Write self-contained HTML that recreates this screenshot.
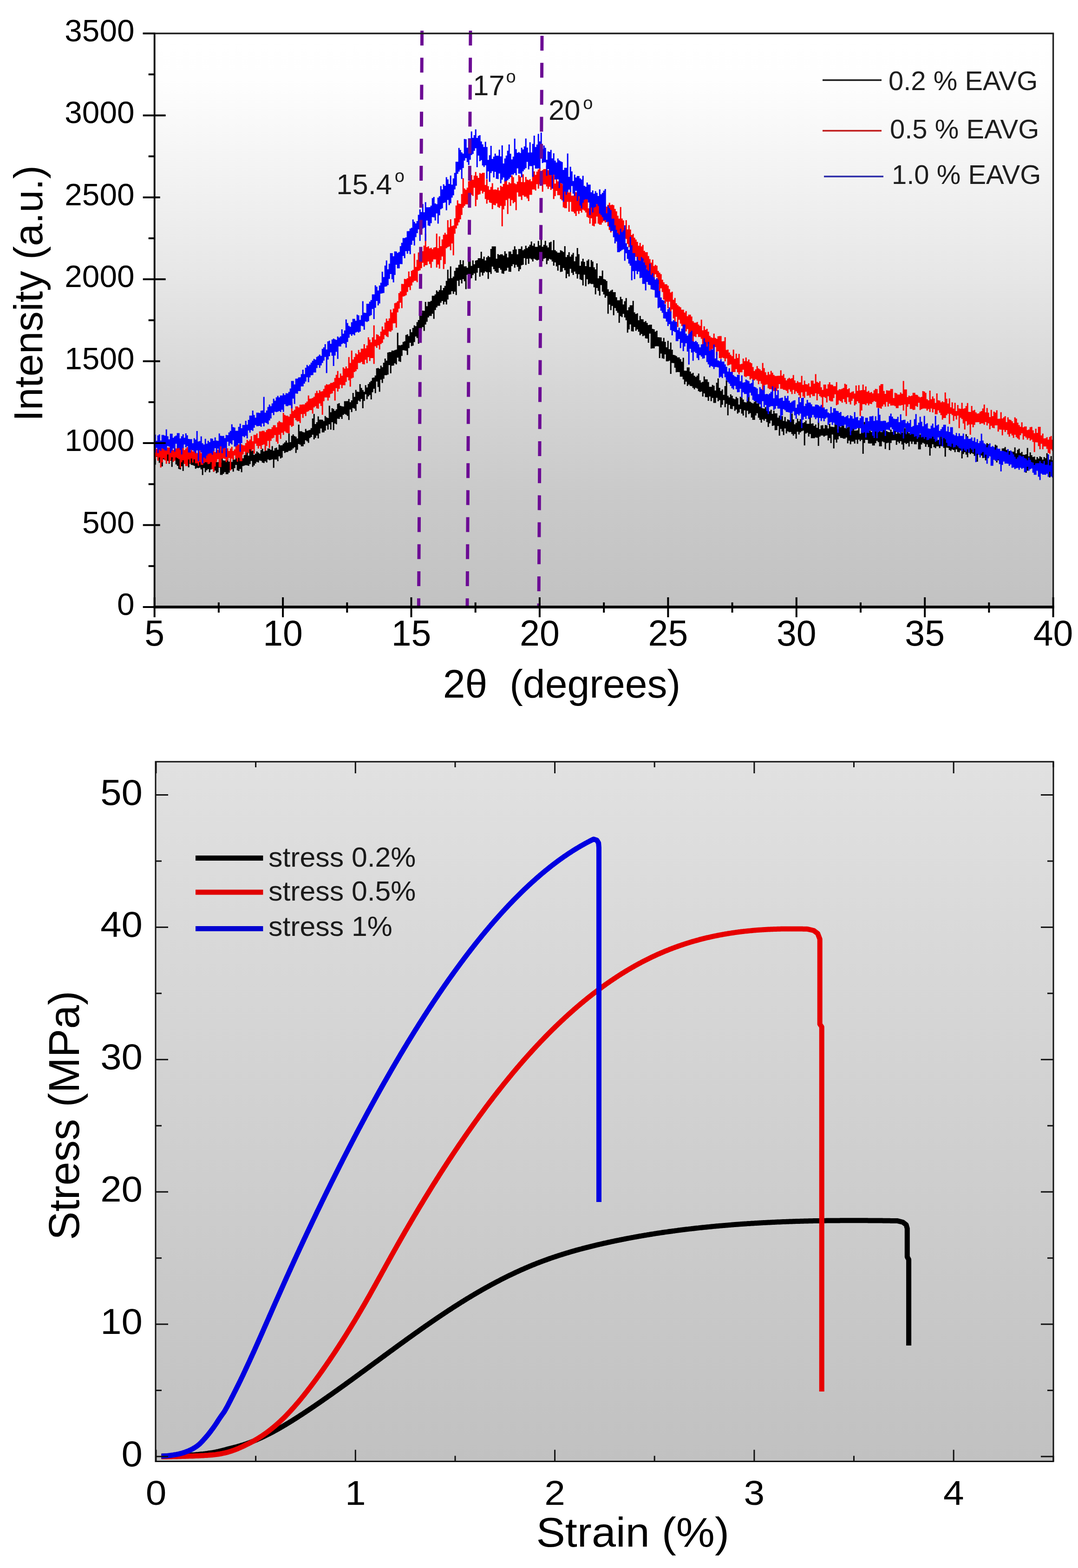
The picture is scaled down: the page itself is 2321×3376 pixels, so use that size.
<!DOCTYPE html>
<html><head><meta charset="utf-8"><title>XRD and stress-strain</title>
<style>html,body{margin:0;padding:0;background:#fff;}svg{display:block;}text{font-family:"Liberation Sans", Arial, sans-serif;}</style>
</head><body>
<svg width="2321" height="3376" viewBox="0 0 2321 3376">
<defs>
<linearGradient id="gt" x1="0" y1="0" x2="0" y2="1"><stop offset="0" stop-color="#ffffff"/><stop offset="0.08" stop-color="#fefefe"/><stop offset="0.42" stop-color="#e7e7e7"/><stop offset="0.62" stop-color="#d6d6d6"/><stop offset="0.8" stop-color="#cacaca"/><stop offset="1" stop-color="#c2c2c2"/></linearGradient>
<linearGradient id="gb" x1="0" y1="0" x2="0" y2="1"><stop offset="0" stop-color="#e1e1e1"/><stop offset="1" stop-color="#c1c1c1"/></linearGradient>
</defs>
<rect x="0" y="0" width="2321" height="3376" fill="#fff"/>
<rect x="332.7" y="72" width="1934.9" height="1235" fill="url(#gt)"/>
<path d="M332.7 964.2H335.7V969.8H338.7V956.5H341.7V950.9H344.7V965.8H347.7V970.3H350.7V967.9H353.7V969.7H356.7V968.8H359.7V964.9H362.7V971.1H365.7V975.2H368.7V964.7H371.7V975.6H374.7V975.6H377.7V969.1H380.7V980.5H383.7V973.5H386.7V975.2H389.7V966.9H392.7V978.4H395.7V979.6H398.7V979.6H401.7V979.1H404.7V970.7H407.7V978.1H410.7V973.6H413.7V973.6H416.7V973.3H419.7V987.2H422.7V988.3H425.7V982.3H428.7V985.9H431.7V979.2H434.7V984.6H437.7V989.4H440.7V985.8H443.7V988.4H446.7V992.2H449.7V987.9H452.7V983H455.7V991.2H458.7V995.5H461.7V992.1H464.7V994.9H467.7V994.9H470.7V989.9H473.7V996.2H476.7V983.6H479.7V991.2H482.7V991.8H485.7V989.8H488.7V986.8H491.7V993.9H494.7V989.4H497.7V994.5H500.7V985.5H503.7V989.4H506.7V974.7H509.7V984.8H512.7V984.5H515.7V987.6H518.7V979.3H521.7V986.8H524.7V980.1H527.7V975.1H530.7V974.3H533.7V981.1H536.7V960.9H539.7V961.5H542.7V970.3H545.7V979.3H548.7V976.7H551.7V972H554.7V974.6H557.7V976.7H560.7V968.9H563.7V965.9H566.7V972.1H569.7V960.8H572.7V970.2H575.7V965.6H578.7V965.9H581.7V968.4H584.7V960.6H587.7V970.2H590.7V965.1H593.7V963.8H596.7V968.3H599.7V957.3H602.7V958.9H605.7V958.6H608.7V955.2H611.7V952.4H614.7V948.5H617.7V952.9H620.7V933.2H623.7V951.9H626.7V938.2H629.7V935.2H632.7V938.7H635.7V940.2H638.7V943.9H641.7V914.2H644.7V928.5H647.7V928.5H650.7V930.3H653.7V930.9H656.7V923.4H659.7V927.6H662.7V926.5H665.7V925.5H668.7V921.8H671.7V901.1H674.7V891.3H677.7V912.9H680.7V909.1H683.7V896.6H686.7V903.5H689.7V903.5H692.7V903.7H695.7V906.5H698.7V895.7H701.7V898.6H704.7V900.1H707.7V873.5H710.7V887.5H713.7V878.9H716.7V880.4H719.7V884.6H722.7V881.3H725.7V869.6H728.7V868.1H731.7V873.8H734.7V874.7H737.7V875.3H740.7V863.8H743.7V863.8H746.7V863.5H749.7V858.9H752.7V866.1H755.7V861.9H758.7V845.9H761.7V854.5H764.7V839.5H767.7V843.3H770.7V843.7H773.7V827.1H776.7V835.3H779.7V839.7H782.7V843.4H785.7V829.3H788.7V834.3H791.7V826.8H794.7V822.7H797.7V820H800.7V813.4H803.7V812.7H806.7V808.4H809.7V793.1H812.7V792.3H815.7V794.1H818.7V787.2H821.7V790.5H824.7V781H827.7V772.1H830.7V776.6H833.7V759.1H836.7V757.9H839.7V757.9H842.7V754.8H845.7V755H848.7V753.7H851.7V752.7H854.7V716.4H857.7V743.2H860.7V743.5H863.7V742.2H866.7V736.3H869.7V734.7H872.7V721.2H875.7V719.8H878.7V723.6H881.7V709H884.7V715.2H887.7V706.1H890.7V700.5H893.7V702.2H896.7V693.5H899.7V689.1H902.7V668.9H905.7V674.6H908.7V668.8H911.7V669.3H914.7V650H917.7V659.3H920.7V649.8H923.7V649.8H926.7V647.7H929.7V636.7H932.7V636.7H935.7V633.7H938.7V625.3H941.7V628H944.7V624.4H947.7V614.5H950.7V624.9H953.7V620.1H956.7V615.4H959.7V604.7H962.7V580.7H965.7V599.6H968.7V573.6H971.7V598.7H974.7V595.5H977.7V583.2H980.7V576.6H983.7V576.6H986.7V570.2H989.7V559.9H992.7V568.9H995.7V560.4H998.7V573.6H1001.7V573.2H1004.7V576.4H1007.7V551.7H1010.7V556.6H1013.7V572.4H1016.7V560.4H1019.7V568.9H1022.7V560.9H1025.7V560H1028.7V555.9H1031.7V555.9H1034.7V542H1037.7V557.5H1040.7V552.5H1043.7V560.8H1046.7V554H1049.7V550.9H1052.7V553.4H1055.7V535.9H1058.7V530.6H1061.7V530.6H1064.7V530.6H1067.7V557H1070.7V547H1073.7V548.9H1076.7V547.6H1079.7V547.6H1082.7V550.3H1085.7V540.9H1088.7V546.3H1091.7V554.3H1094.7V541.5H1097.7V541.5H1100.7V547.1H1103.7V537.8H1106.7V530.3H1109.7V536.7H1112.7V547.6H1115.7V535.9H1118.7V535.9H1121.7V530.4H1124.7V538.7H1127.7V536.6H1130.7V529H1133.7V534.3H1136.7V530.9H1139.7V526.9H1142.7V520H1145.7V529H1148.7V524.3H1151.7V531.4H1154.7V531.5H1157.7V518.8H1160.7V528.2H1163.7V514.9H1166.7V531.3H1169.7V527.3H1172.7V518.5H1175.7V528.8H1178.7V532.7H1181.7V521.9H1184.7V520.4H1187.7V538.8H1190.7V516.9H1193.7V538.6H1196.7V541.3H1199.7V544H1202.7V544H1205.7V538.7H1208.7V540.2H1211.7V542.4H1214.7V529.9H1217.7V553.4H1220.7V548.9H1223.7V543.1H1226.7V552.6H1229.7V548.2H1232.7V544.6H1235.7V562.5H1238.7V552.6H1241.7V534H1244.7V547.3H1247.7V572.2H1250.7V562.8H1253.7V557.1H1256.7V563.8H1259.7V572.9H1262.7V561.3H1265.7V558.6H1268.7V574.8H1271.7V560H1274.7V563.3H1277.7V575.6H1280.7V580H1283.7V567H1286.7V599.3H1289.7V593.9H1292.7V594.5H1295.7V582.6H1298.7V600.7H1301.7V602.1H1304.7V604.9H1307.7V622.7H1310.7V627.9H1313.7V625.5H1316.7V623.7H1319.7V629.1H1322.7V629.1H1325.7V640.1H1328.7V646.6H1331.7V646.6H1334.7V638.9H1337.7V644.1H1340.7V655.5H1343.7V648.6H1346.7V641.7H1349.7V668H1352.7V661.4H1355.7V657.2H1358.7V657.2H1361.7V647.7H1364.7V672.5H1367.7V676.1H1370.7V674.4H1373.7V689.6H1376.7V680.2H1379.7V687.3H1382.7V687.6H1385.7V693.2H1388.7V691.3H1391.7V695.2H1394.7V700.1H1397.7V699H1400.7V699H1403.7V708.1H1406.7V708.9H1409.7V713.9H1412.7V712.1H1415.7V726H1418.7V726.2H1421.7V726.6H1424.7V734.8H1427.7V727.4H1430.7V735.9H1433.7V747.8H1436.7V733.7H1439.7V751.7H1442.7V737.4H1445.7V753H1448.7V764.1H1451.7V764.8H1454.7V766.6H1457.7V769.6H1460.7V769.6H1463.7V773.3H1466.7V778.8H1469.7V770.3H1472.7V798H1475.7V798.2H1478.7V791.1H1481.7V791.1H1484.7V799.9H1487.7V804.4H1490.7V802.8H1493.7V809H1496.7V811.5H1499.7V808.7H1502.7V804.2H1505.7V818.8H1508.7V823.4H1511.7V822H1514.7V810.6H1517.7V816.8H1520.7V816.8H1523.7V822.6H1526.7V832.8H1529.7V832.8H1532.7V828.7H1535.7V830.4H1538.7V840.7H1541.7V823.9H1544.7V814.7H1547.7V835H1550.7V841.7H1553.7V838.6H1556.7V850.1H1559.7V831.2H1562.7V818.9H1565.7V852H1568.7V855.5H1571.7V849H1574.7V852H1577.7V857.9H1580.7V859.4H1583.7V854.4H1586.7V857.2H1589.7V871H1592.7V854.2H1595.7V856.2H1598.7V860.3H1601.7V865.7H1604.7V866.6H1607.7V860H1610.7V850.7H1613.7V864.7H1616.7V867H1619.7V868.5H1622.7V865.5H1625.7V861.2H1628.7V868.6H1631.7V862.1H1634.7V875.4H1637.7V875.3H1640.7V879.1H1643.7V879.7H1646.7V876.6H1649.7V881.3H1652.7V883.5H1655.7V885.6H1658.7V882.3H1661.7V891.1H1664.7V884.3H1667.7V890.1H1670.7V890.1H1673.7V899.3H1676.7V894.8H1679.7V895.8H1682.7V895.8H1685.7V906.3H1688.7V897.7H1691.7V907.6H1694.7V902.9H1697.7V904.4H1700.7V905.6H1703.7V890.6H1706.7V903.1H1709.7V913.5H1712.7V910.3H1715.7V901.4H1718.7V906.9H1721.7V902.6H1724.7V909.8H1727.7V910.8H1730.7V908.9H1733.7V905.6H1736.7V912.5H1739.7V912.5H1742.7V893.3H1745.7V912.3H1748.7V911.6H1751.7V917.1H1754.7V913.9H1757.7V921.1H1760.7V908.5H1763.7V924H1766.7V915.9H1769.7V915.5H1772.7V922.5H1775.7V914.9H1778.7V915.7H1781.7V922.4H1784.7V912.2H1787.7V918.6H1790.7V919.1H1793.7V919.6H1796.7V909.2H1799.7V909.2H1802.7V924H1805.7V913.5H1808.7V919.8H1811.7V914.7H1814.7V908.4H1817.7V921.5H1820.7V922.2H1823.7V920H1826.7V913.2H1829.7V929.3H1832.7V911.8H1835.7V922.4H1838.7V927.1H1841.7V926.9H1844.7V926.5H1847.7V915.2H1850.7V933.8H1853.7V927.3H1856.7V929.7H1859.7V908.6H1862.7V932H1865.7V925.7H1868.7V921.3H1871.7V927.1H1874.7V930.3H1877.7V909.9H1880.7V917.8H1883.7V918.9H1886.7V921.8H1889.7V928.9H1892.7V925.7H1895.7V930.3H1898.7V919.7H1901.7V919.7H1904.7V928.7H1907.7V927.9H1910.7V930H1913.7V930.4H1916.7V924.9H1919.7V929.9H1922.7V927.9H1925.7V925.2H1928.7V933.7H1931.7V927.5H1934.7V932.8H1937.7V926.5H1940.7V931.3H1943.7V931.8H1946.7V921.7H1949.7V932.9H1952.7V925.1H1955.7V932.5H1958.7V930H1961.7V926.2H1964.7V929.2H1967.7V925.8H1970.7V931.1H1973.7V934.8H1976.7V932.5H1979.7V935.4H1982.7V923.4H1985.7V923.9H1988.7V938.8H1991.7V929H1994.7V923H1997.7V932.3H2000.7V938.2H2003.7V933.7H2006.7V939H2009.7V932.6H2012.7V939.7H2015.7V942.1H2018.7V947.3H2021.7V935.9H2024.7V937.5H2027.7V944.7H2030.7V930.8H2033.7V942.7H2036.7V934.6H2039.7V934.6H2042.7V937.3H2045.7V939.8H2048.7V950.7H2051.7V943.2H2054.7V948H2057.7V941.6H2060.7V946.1H2063.7V950.3H2066.7V957H2069.7V952.8H2072.7V953.1H2075.7V946.8H2078.7V934.8H2081.7V939.3H2084.7V956.9H2087.7V952.1H2090.7V956.3H2093.7V956.3H2096.7V944.3H2099.7V957H2102.7V963.6H2105.7V957.2H2108.7V959.2H2111.7V952.3H2114.7V952.3H2117.7V963.4H2120.7V959.8H2123.7V954.1H2126.7V956.3H2129.7V965.6H2132.7V965.8H2135.7V962.1H2138.7V963.5H2141.7V957.5H2144.7V959.6H2147.7V969.6H2150.7V972.6H2153.7V971.5H2156.7V965.6H2159.7V965.2H2162.7V962.4H2165.7V968.7H2168.7V969.4H2171.7V971H2174.7V971H2177.7V972.6H2180.7V972.6H2183.7V963.3H2186.7V976.1H2189.7V968.5H2192.7V965.9H2195.7V975.5H2198.7V973H2201.7V978.9H2204.7V979.3H2207.7V978.1H2210.7V964.4H2213.7V982.4H2216.7V974.1H2219.7V980.1H2222.7V984.1H2225.7V982.9H2228.7V989.4H2231.7V983.9H2234.7V987.3H2237.7V982.4H2240.7V984.3H2243.7V989.4H2246.7V983.9H2249.7V986.4H2252.7V975.8H2255.7V991.3H2258.7V989.6H2261.7V981.9H2264.7V991.1H2267.6V1019.7H2264.7V1010.3H2261.7V1028.1H2258.7V1015.5H2255.7V1013H2252.7V1007.3H2249.7V1007.9H2246.7V1002.1H2243.7V1002.1H2240.7V1004.9H2237.7V1015.9H2234.7V1009.7H2231.7V1004.2H2228.7V1004.7H2225.7V1004.2H2222.7V997.6H2219.7V993.8H2216.7V1007.7H2213.7V1013.4H2210.7V1017.7H2207.7V995.4H2204.7V998.7H2201.7V998.7H2198.7V1000.7H2195.7V1000.7H2192.7V993H2189.7V998.8H2186.7V1005H2183.7V992.6H2180.7V993.3H2177.7V999.3H2174.7V994.9H2171.7V993.7H2168.7V993.9H2165.7V992.9H2162.7V989.1H2159.7V988.2H2156.7V999H2153.7V993.2H2150.7V990.9H2147.7V995.8H2144.7V989.7H2141.7V989.8H2138.7V997.9H2135.7V983.7H2132.7V980.6H2129.7V975.8H2126.7V986.9H2123.7V991.2H2120.7V985.6H2117.7V986.3H2114.7V980.7H2111.7V980.4H2108.7V978.1H2105.7V994.1H2102.7V981.1H2099.7V981.6H2096.7V977.2H2093.7V975.6H2090.7V977.7H2087.7V974.7H2084.7V984.6H2081.7V978.7H2078.7V973.6H2075.7V977.6H2072.7V987.1H2069.7V970.1H2066.7V973.8H2063.7V972.9H2060.7V967.5H2057.7V973.6H2054.7V969H2051.7V967.7H2048.7V970.8H2045.7V969.1H2042.7V964.3H2039.7V963.7H2036.7V983.2H2033.7V964.4H2030.7V960.3H2027.7V960.6H2024.7V964.7H2021.7V960.9H2018.7V960.9H2015.7V965H2012.7V963.1H2009.7V956.6H2006.7V965.1H2003.7V980.9H2000.7V962.6H1997.7V956.8H1994.7V961.9H1991.7V955.4H1988.7V953.6H1985.7V956.9H1982.7V967.4H1979.7V967.4H1976.7V951.4H1973.7V956.6H1970.7V956.6H1967.7V950.8H1964.7V955.7H1961.7V950.6H1958.7V961.4H1955.7V954.1H1952.7V956H1949.7V953.4H1946.7V968.1H1943.7V957.1H1940.7V950H1937.7V954.3H1934.7V950.9H1931.7V957.8H1928.7V948.1H1925.7V948.1H1922.7V948.3H1919.7V953.8H1916.7V969H1913.7V953.2H1910.7V954.2H1907.7V966.7H1904.7V952.3H1901.7V950.6H1898.7V960.9H1895.7V960.9H1892.7V952.1H1889.7V949.3H1886.7V954.3H1883.7V959.2H1880.7V959.2H1877.7V954.7H1874.7V954.9H1871.7V954.8H1868.7V947.2H1865.7V947.1H1862.7V953.7H1859.7V977.1H1856.7V946.9H1853.7V949.8H1850.7V946.5H1847.7V955.6H1844.7V946.8H1841.7V955.1H1838.7V950.8H1835.7V950.8H1832.7V956.6H1829.7V948.7H1826.7V954.5H1823.7V941.9H1820.7V944.5H1817.7V944.5H1814.7V943H1811.7V942.7H1808.7V939.3H1805.7V946.1H1802.7V953H1799.7V946.4H1796.7V965.6H1793.7V935.6H1790.7V954H1787.7V943.3H1784.7V948.3H1781.7V937.5H1778.7V938.3H1775.7V940.3H1772.7V937.8H1769.7V937.8H1766.7V940.3H1763.7V960.1H1760.7V942.6H1757.7V941.7H1754.7V943.4H1751.7V943.4H1748.7V943.6H1745.7V934.4H1742.7V940.1H1739.7V931.7H1736.7V933.5H1733.7V959.1H1730.7V927.3H1727.7V928.4H1724.7V930.9H1721.7V935.5H1718.7V929.6H1715.7V944.6H1712.7V934.6H1709.7V938H1706.7V934.4H1703.7V930.1H1700.7V930.5H1697.7V928.7H1694.7V933.3H1691.7V922.4H1688.7V936.7H1685.7V929.1H1682.7V923.4H1679.7V938.1H1676.7V917.2H1673.7V925.9H1670.7V926.3H1667.7V916H1664.7V916.9H1661.7V905.6H1658.7V911.4H1655.7V919.3H1652.7V908.7H1649.7V901.9H1646.7V905.8H1643.7V903.1H1640.7V910H1637.7V904.1H1634.7V899.5H1631.7V889.8H1628.7V894.6H1625.7V904H1622.7V904H1619.7V899.1H1616.7V889.5H1613.7V891.5H1610.7V884.4H1607.7V898.7H1604.7V883.5H1601.7V894.7H1598.7V890.5H1595.7V880.8H1592.7V887.9H1589.7V890.6H1586.7V881.7H1583.7V884.5H1580.7V874.4H1577.7V880.7H1574.7V880.3H1571.7V871.7H1568.7V894.3H1565.7V869.5H1562.7V876.8H1559.7V861.5H1556.7V871.5H1553.7V877.2H1550.7V861.5H1547.7V864.1H1544.7V856.4H1541.7V867.4H1538.7V867.4H1535.7V856.7H1532.7V863.7H1529.7V853.7H1526.7V862.9H1523.7V855.3H1520.7V855.1H1517.7V847H1514.7V853.8H1511.7V843H1508.7V843.9H1505.7V842.2H1502.7V836.8H1499.7V835H1496.7V838.2H1493.7V835.2H1490.7V831.6H1487.7V831H1484.7V828H1481.7V830.9H1478.7V821.7H1475.7V827.5H1472.7V816.7H1469.7V811H1466.7V811H1463.7V801.2H1460.7V800.9H1457.7V801.5H1454.7V791.8H1451.7V781.7H1448.7V781.5H1445.7V804.9H1442.7V776.6H1439.7V778H1436.7V778H1433.7V763.1H1430.7V772.5H1427.7V771.5H1424.7V761.2H1421.7V771H1418.7V745.7H1415.7V745.2H1412.7V745.8H1409.7V750.1H1406.7V750.1H1403.7V750.5H1400.7V718.2H1397.7V737.9H1394.7V729.1H1391.7V728.5H1388.7V722.5H1385.7V723.8H1382.7V719H1379.7V721.8H1376.7V714.2H1373.7V709.3H1370.7V712.3H1367.7V704.1H1364.7V713.7H1361.7V713.3H1358.7V698.5H1355.7V709.2H1352.7V716.2H1349.7V689.6H1346.7V683.5H1343.7V675.7H1340.7V682.7H1337.7V680.7H1334.7V695H1331.7V673.4H1328.7V669.2H1325.7V663.3H1322.7V678.8H1319.7V658.7H1316.7V667.8H1313.7V655.8H1310.7V675.5H1307.7V637.3H1304.7V641.1H1301.7V634H1298.7V628H1295.7V613.8H1292.7V636.5H1289.7V626.3H1286.7V620H1283.7V633.7H1280.7V618.6H1277.7V611.6H1274.7V611.6H1271.7V610.3H1268.7V612.1H1265.7V601.2H1262.7V616.2H1259.7V591.6H1256.7V614.6H1253.7V603.1H1250.7V601.6H1247.7V590.5H1244.7V599.7H1241.7V589.5H1238.7V584.8H1235.7V592H1232.7V587.6H1229.7V578.8H1226.7V595.3H1223.7V589.7H1220.7V599.1H1217.7V581.7H1214.7V577.1H1211.7V584.8H1208.7V585.4H1205.7V570.8H1202.7V582.7H1199.7V573.5H1196.7V565H1193.7V572H1190.7V563.1H1187.7V559H1184.7V557.5H1181.7V561.3H1178.7V568.8H1175.7V555.7H1172.7V557.3H1169.7V562.3H1166.7V556H1163.7V559.4H1160.7V559.4H1157.7V560.7H1154.7V559H1151.7V557.3H1148.7V562.9H1145.7V558.6H1142.7V556.4H1139.7V568.1H1136.7V557.3H1133.7V570.6H1130.7V555.8H1127.7V570.1H1124.7V571.3H1121.7V579.8H1118.7V584.1H1115.7V574.6H1112.7V570.3H1109.7V576.6H1106.7V568.9H1103.7V572.9H1100.7V585.3H1097.7V585H1094.7V576.4H1091.7V582.4H1088.7V583.4H1085.7V589.4H1082.7V588.8H1079.7V580.8H1076.7V577.1H1073.7V586.9H1070.7V587.1H1067.7V584H1064.7V579.6H1061.7V574.1H1058.7V589.7H1055.7V586H1052.7V600.6H1049.7V586.3H1046.7V584.4H1043.7V587.4H1040.7V593.3H1037.7V586.4H1034.7V595.7H1031.7V577H1028.7V587.2H1025.7V603.9H1022.7V588.8H1019.7V592.3H1016.7V598.9H1013.7V601.6H1010.7V603.6H1007.7V591.8H1004.7V622.6H1001.7V605.6H998.7V601H995.7V610.3H992.7V602.8H989.7V615.8H986.7V604.4H983.7V635.2H980.7V628.1H977.7V632.8H974.7V627H971.7V633.8H968.7V634.4H965.7V644.7H962.7V655.6H959.7V649.7H956.7V655.6H953.7V647.9H950.7V651.8H947.7V658.5H944.7V658.5H941.7V662H938.7V667.4H935.7V686.5H932.7V675.6H929.7V680.2H926.7V680.2H923.7V683.5H920.7V692.8H917.7V698.7H914.7V712.6H911.7V704.3H908.7V708.2H905.7V715.9H902.7V740H899.7V727.8H896.7V724.5H893.7V736.4H890.7V744.3H887.7V745.2H884.7V737.9H881.7V749.5H878.7V764.2H875.7V755.3H872.7V754.5H869.7V754.1H866.7V766.2H863.7V779.3H860.7V777.9H857.7V770.1H854.7V784.4H851.7V782.3H848.7V787.1H845.7V787.4H842.7V803.7H839.7V785.9H836.7V806.4H833.7V807.8H830.7V807.8H827.7V815.5H824.7V824.5H821.7V817.4H818.7V843.4H815.7V833.2H812.7V821.5H809.7V846.6H806.7V837.1H803.7V844.6H800.7V860.1H797.7V850.6H794.7V853.5H791.7V859.5H788.7V848.9H785.7V863.3H782.7V878.9H779.7V859.1H776.7V864.5H773.7V862.5H770.7V869.9H767.7V884.5H764.7V879.8H761.7V878.6H758.7V887.2H755.7V881.7H752.7V904.3H749.7V895.6H746.7V892.9H743.7V891.3H740.7V893.2H737.7V902.1H734.7V897.8H731.7V901.9H728.7V901.5H725.7V913.4H722.7V911.8H719.7V926H716.7V909.1H713.7V925H710.7V913.4H707.7V924.9H704.7V916.4H701.7V927.2H698.7V931.1H695.7V931.1H692.7V922.5H689.7V933.2H686.7V944H683.7V937.7H680.7V942.8H677.7V945.9H674.7V935.9H671.7V941.1H668.7V943.2H665.7V953.5H662.7V950.2H659.7V948.1H656.7V956.2H653.7V960.9H650.7V960.9H647.7V957.4H644.7V955.9H641.7V968.4H638.7V975.2H635.7V963H632.7V965.4H629.7V968.6H626.7V970.6H623.7V970.7H620.7V973.2H617.7V973.4H614.7V975.2H611.7V970.9H608.7V985.2H605.7V986.9H602.7V982.6H599.7V993H596.7V989.6H593.7V989.6H590.7V1007.3H587.7V989H584.7V990.3H581.7V990.7H578.7V989.3H575.7V995.8H572.7V993.3H569.7V997.1H566.7V995.9H563.7V992.5H560.7V991.5H557.7V995.8H554.7V994.6H551.7V998.1H548.7V1002.2H545.7V1005.3H542.7V992.6H539.7V999.2H536.7V1003.1H533.7V1002H530.7V1001.6H527.7V1002.4H524.7V1003.4H521.7V1016.7H518.7V1009.8H515.7V1014.1H512.7V1012.8H509.7V1001H506.7V1007.9H503.7V1015.6H500.7V1010.2H497.7V1012.4H494.7V1017.7H491.7V1020.9H488.7V1020.9H485.7V1016.4H482.7V1020H479.7V1022.6H476.7V1022.6H473.7V1007H470.7V1016.9H467.7V1018.9H464.7V1013.3H461.7V1015.8H458.7V1009.3H455.7V1011.1H452.7V1016.9H449.7V1010.1H446.7V1012.6H443.7V1016.4H440.7V1007.8H437.7V1022.8H434.7V1010.5H431.7V1006.7H428.7V1007.8H425.7V1007.6H422.7V1009.2H419.7V1003.1H416.7V1001.4H413.7V1001H410.7V998.6H407.7V1006.3H404.7V998.3H401.7V997.3H398.7V997.3H395.7V1014H392.7V1004H389.7V1010.7H386.7V1009.8H383.7V1003.1H380.7V999.9H377.7V991H374.7V988.7H371.7V1005.2H368.7V992H365.7V998.5H362.7V992.6H359.7V990.8H356.7V990.4H353.7V988.9H350.7V1004.3H347.7V986.4H344.7V996.4H341.7V989.4H338.7V983.4H335.7V1000.5H332.7Z" fill="#000000"/>
<path d="M332.7 952.5H335.7V966.6H338.7V961.2H341.7V961.2H344.7V966H347.7V963.6H350.7V956.4H353.7V954.6H356.7V968.2H359.7V963.4H362.7V963.4H365.7V960.6H368.7V965.5H371.7V968.8H374.7V964.2H377.7V965.6H380.7V960.4H383.7V961.9H386.7V962H389.7V963.5H392.7V963.2H395.7V968.9H398.7V965.6H401.7V962.5H404.7V966.9H407.7V971.3H410.7V956.2H413.7V971.7H416.7V961.9H419.7V968.3H422.7V975.5H425.7V970.2H428.7V970.6H431.7V975.4H434.7V971.4H437.7V974.3H440.7V967.1H443.7V970.9H446.7V975.6H449.7V962H452.7V967.7H455.7V970.9H458.7V956H461.7V973.4H464.7V967.9H467.7V967.9H470.7V970.9H473.7V958.1H476.7V970H479.7V961H482.7V957.3H485.7V966.7H488.7V965.3H491.7V970.9H494.7V965.7H497.7V962.1H500.7V971H503.7V967.6H506.7V960.8H509.7V957.6H512.7V956.8H515.7V955.1H518.7V956.4H521.7V958.5H524.7V959H527.7V954H530.7V946.9H533.7V949.7H536.7V946.5H539.7V939.1H542.7V950.1H545.7V936.2H548.7V936.2H551.7V933.2H554.7V943.2H557.7V928.7H560.7V928.7H563.7V927.5H566.7V927.5H569.7V930.2H572.7V925.9H575.7V923.4H578.7V923.4H581.7V924H584.7V919.8H587.7V915.6H590.7V915.4H593.7V920H596.7V909.6H599.7V906.5H602.7V908.8H605.7V909.4H608.7V888.9H611.7V893.2H614.7V895H617.7V895H620.7V897.1H623.7V891.5H626.7V866.1H629.7V885H632.7V882.2H635.7V875H638.7V874.9H641.7V877.3H644.7V871.2H647.7V871.2H650.7V870.7H653.7V870.7H656.7V867.6H659.7V864.4H662.7V851.6H665.7V858.6H668.7V858H671.7V856.8H674.7V854.2H677.7V846.6H680.7V841.6H683.7V846.2H686.7V840.3H689.7V842.9H692.7V842.2H695.7V837.4H698.7V830.1H701.7V827.2H704.7V828.2H707.7V827.2H710.7V824.5H713.7V824.2H716.7V822.6H719.7V813.7H722.7V807H725.7V798.7H728.7V813.6H731.7V804.2H734.7V809.1H737.7V791.1H740.7V793.8H743.7V789H746.7V793H749.7V768.8H752.7V781.4H755.7V754.8H758.7V774H761.7V768.7H764.7V760.8H767.7V763H770.7V753.6H773.7V758.4H776.7V750.7H779.7V750.7H782.7V741H785.7V750H788.7V743.7H791.7V726.3H794.7V731.3H797.7V737.1H800.7V726.3H803.7V700.6H806.7V731.2H809.7V719.8H812.7V721H815.7V724H818.7V713.9H821.7V702.9H824.7V709.5H827.7V694.5H830.7V685.9H833.7V691H836.7V685.6H839.7V666.5H842.7V672.7H845.7V664.6H848.7V652.7H851.7V651.4H854.7V648.5H857.7V631.1H860.7V627.4H863.7V611.2H866.7V611.4H869.7V600.5H872.7V601.1H875.7V598.9H878.7V584.5H881.7V595.2H884.7V583H887.7V581.1H890.7V546.1H893.7V574.8H896.7V559.6H899.7V543.4H902.7V558.5H905.7V551H908.7V540.7H911.7V528.8H914.7V503.1H917.7V532H920.7V530.2H923.7V534.7H926.7V533.5H929.7V536.4H932.7V532.9H935.7V531.9H938.7V503H941.7V534.3H944.7V509.1H947.7V529.9H950.7V515.6H953.7V505.6H956.7V501.2H959.7V504.7H962.7V474.1H965.7V489.6H968.7V472.1H971.7V486.7H974.7V485.6H977.7V469.9H980.7V442.5H983.7V431.2H986.7V438.2H989.7V439H992.7V417.8H995.7V383.7H998.7V405.8H1001.7V408.4H1004.7V403.9H1007.7V390.2H1010.7V381.6H1013.7V377.1H1016.7V386.9H1019.7V378.1H1022.7V370.3H1025.7V378.4H1028.7V382.9H1031.7V372.6H1034.7V374H1037.7V372H1040.7V372H1043.7V398.2H1046.7V386.1H1049.7V400.8H1052.7V408.4H1055.7V402.6H1058.7V394.4H1061.7V408.2H1064.7V407.8H1067.7V408.5H1070.7V403.7H1073.7V409.9H1076.7V399.9H1079.7V402.1H1082.7V396H1085.7V388.5H1088.7V362.9H1091.7V397.6H1094.7V392.6H1097.7V394.8H1100.7V377.4H1103.7V381.4H1106.7V394.6H1109.7V396.6H1112.7V391.2H1115.7V377.1H1118.7V380.2H1121.7V392.1H1124.7V375.2H1127.7V392.2H1130.7V380.9H1133.7V386.7H1136.7V387.8H1139.7V385.7H1142.7V390.3H1145.7V360.8H1148.7V369.1H1151.7V376.6H1154.7V369.4H1157.7V365H1160.7V361.3H1163.7V368.1H1166.7V366.3H1169.7V364.1H1172.7V363.9H1175.7V356.4H1178.7V366.2H1181.7V369.1H1184.7V347.8H1187.7V378.5H1190.7V373.4H1193.7V395.3H1196.7V383H1199.7V390.6H1202.7V390.4H1205.7V393H1208.7V396H1211.7V399.4H1214.7V393.3H1217.7V374.6H1220.7V396.8H1223.7V414.4H1226.7V399.6H1229.7V421.2H1232.7V421.2H1235.7V412H1238.7V414.1H1241.7V407.7H1244.7V391.3H1247.7V428.1H1250.7V416.8H1253.7V421.6H1256.7V418.1H1259.7V418.1H1262.7V421H1265.7V448.6H1268.7V444.1H1271.7V439.4H1274.7V439.2H1277.7V428.2H1280.7V440.7H1283.7V436.7H1286.7V435.4H1289.7V441.8H1292.7V449.1H1295.7V448.6H1298.7V423.9H1301.7V444.1H1304.7V445H1307.7V440.9H1310.7V436.5H1313.7V441.6H1316.7V440.5H1319.7V441.7H1322.7V449.7H1325.7V455H1328.7V464.4H1331.7V470.7H1334.7V445.8H1337.7V470.6H1340.7V474.6H1343.7V490.2H1346.7V474.1H1349.7V493.9H1352.7V484.7H1355.7V494.3H1358.7V506.1H1361.7V503.4H1364.7V511.7H1367.7V515.7H1370.7V520.8H1373.7V528.9H1376.7V523.1H1379.7V530.4H1382.7V527.3H1385.7V540H1388.7V542.9H1391.7V542.9H1394.7V551.2H1397.7V557.8H1400.7V565.5H1403.7V559H1406.7V572.7H1409.7V570.2H1412.7V572.1H1415.7V583.2H1418.7V586.9H1421.7V590.2H1424.7V602.3H1427.7V607.8H1430.7V612H1433.7V612H1436.7V615H1439.7V622.5H1442.7V629.7H1445.7V628.1H1448.7V645.6H1451.7V641.6H1454.7V653.1H1457.7V656.8H1460.7V659.6H1463.7V661.4H1466.7V666.7H1469.7V666.7H1472.7V672.9H1475.7V669.7H1478.7V680.7H1481.7V677.6H1484.7V677.6H1487.7V681.4H1490.7V691.5H1493.7V694.8H1496.7V694.8H1499.7V693.2H1502.7V698.8H1505.7V701.4H1508.7V688.2H1511.7V711.2H1514.7V702.4H1517.7V709.9H1520.7V708.1H1523.7V714.2H1526.7V723H1529.7V726.2H1532.7V727.5H1535.7V718.2H1538.7V727.6H1541.7V729.4H1544.7V723.9H1547.7V723.4H1550.7V723.4H1553.7V734.9H1556.7V734.5H1559.7V726.1H1562.7V753.6H1565.7V752.8H1568.7V759.1H1571.7V763.7H1574.7V766.8H1577.7V752.8H1580.7V772.4H1583.7V761.4H1586.7V770.7H1589.7V761.9H1592.7V784.3H1595.7V783.2H1598.7V771.9H1601.7V777.4H1604.7V769.7H1607.7V777.8H1610.7V774H1613.7V780.2H1616.7V782H1619.7V790.2H1622.7V798.8H1625.7V795.2H1628.7V788.2H1631.7V793.3H1634.7V795.1H1637.7V797.9H1640.7V781.5H1643.7V792.4H1646.7V801.4H1649.7V807.4H1652.7V800.8H1655.7V806.2H1658.7V798.6H1661.7V802.5H1664.7V807.3H1667.7V809.5H1670.7V809.5H1673.7V809.1H1676.7V809.1H1679.7V797.2H1682.7V808.8H1685.7V805.4H1688.7V813.8H1691.7V819.1H1694.7V815.6H1697.7V813.5H1700.7V815.4H1703.7V814.2H1706.7V807.5H1709.7V819.1H1712.7V824.4H1715.7V820.5H1718.7V823.2H1721.7V823.2H1724.7V809.3H1727.7V828.4H1730.7V819.6H1733.7V827.1H1736.7V827.7H1739.7V825.2H1742.7V832.4H1745.7V819.4H1748.7V819.4H1751.7V825.9H1754.7V805.4H1757.7V821.9H1760.7V824.1H1763.7V820.8H1766.7V833.7H1769.7V839.4H1772.7V828.1H1775.7V828.1H1778.7V836.8H1781.7V827.4H1784.7V822.9H1787.7V827.9H1790.7V828.4H1793.7V831.5H1796.7V831.5H1799.7V822.8H1802.7V840.6H1805.7V837.9H1808.7V838.2H1811.7V836.8H1814.7V835.3H1817.7V826.3H1820.7V828H1823.7V838H1826.7V836.1H1829.7V845.4H1832.7V843.6H1835.7V842.6H1838.7V847.3H1841.7V830H1844.7V841.4H1847.7V829.2H1850.7V840.6H1853.7V839.9H1856.7V827.9H1859.7V839.7H1862.7V832.1H1865.7V843.4H1868.7V841.4H1871.7V845.6H1874.7V844.1H1877.7V846.9H1880.7V840.3H1883.7V837.3H1886.7V837.8H1889.7V847.1H1892.7V830.3H1895.7V827.1H1898.7V827.1H1901.7V841.8H1904.7V848H1907.7V840.3H1910.7V840.9H1913.7V841H1916.7V837.4H1919.7V837.4H1922.7V857H1925.7V845.8H1928.7V846.8H1931.7V849.5H1934.7V849.5H1937.7V845.1H1940.7V847.7H1943.7V820.3H1946.7V838.6H1949.7V838.6H1952.7V854.9H1955.7V851.8H1958.7V852.9H1961.7V851.8H1964.7V845.8H1967.7V845.8H1970.7V849.7H1973.7V850.5H1976.7V853.7H1979.7V855.6H1982.7V854.6H1985.7V841.9H1988.7V843.1H1991.7V845.7H1994.7V859.4H1997.7V862H2000.7V841H2003.7V859.5H2006.7V853.5H2009.7V858.1H2012.7V867.5H2015.7V846.9H2018.7V861.7H2021.7V862.4H2024.7V866.3H2027.7V864H2030.7V866.1H2033.7V845H2036.7V858.4H2039.7V868.8H2042.7V857.7H2045.7V877.1H2048.7V866.2H2051.7V879.7H2054.7V867.3H2057.7V885.1H2060.7V872.1H2063.7V879.4H2066.7V880.2H2069.7V867.3H2072.7V880.1H2075.7V879H2078.7V874.3H2081.7V867.8H2084.7V886.8H2087.7V887H2090.7V874.1H2093.7V883.9H2096.7V882.4H2099.7V887.7H2102.7V890.4H2105.7V890.1H2108.7V886.5H2111.7V885.1H2114.7V879.4H2117.7V871H2120.7V887.8H2123.7V878.5H2126.7V888.4H2129.7V898.1H2132.7V882.5H2135.7V896H2138.7V886.3H2141.7V888.2H2144.7V883.3H2147.7V901.7H2150.7V901.6H2153.7V887.6H2156.7V900.9H2159.7V898.4H2162.7V895.9H2165.7V908.8H2168.7V898.5H2171.7V903.2H2174.7V904.3H2177.7V907H2180.7V911H2183.7V898.6H2186.7V901.3H2189.7V909.9H2192.7V915.3H2195.7V918.8H2198.7V909.3H2201.7V919.9H2204.7V918.2H2207.7V918.2H2210.7V926.1H2213.7V924.8H2216.7V919.7H2219.7V919H2222.7V926.4H2225.7V932.8H2228.7V923.1H2231.7V932H2234.7V918.9H2237.7V918.9H2240.7V937.5H2243.7V933.5H2246.7V943.9H2249.7V943.5H2252.7V941.2H2255.7V946.4H2258.7V940.8H2261.7V938.7H2264.7V946.7H2267.6V970.4H2264.7V967.6H2261.7V976.7H2258.7V974.9H2255.7V966.4H2252.7V961.3H2249.7V961.3H2246.7V967.3H2243.7V955.4H2240.7V967.2H2237.7V960.5H2234.7V952.4H2231.7V952.3H2228.7V973.3H2225.7V951.4H2222.7V946.6H2219.7V948.4H2216.7V943.3H2213.7V946.5H2210.7V942.3H2207.7V939.3H2204.7V946.4H2201.7V932.9H2198.7V937.1H2195.7V946.5H2192.7V943.9H2189.7V941.2H2186.7V936.1H2183.7V942.7H2180.7V937.5H2177.7V933.7H2174.7V940.3H2171.7V935.3H2168.7V925.9H2165.7V930H2162.7V925.5H2159.7V937.3H2156.7V925.1H2153.7V924.8H2150.7V929.3H2147.7V915.8H2144.7V915.7H2141.7V922.1H2138.7V921H2135.7V916.8H2132.7V924.3H2129.7V911.6H2126.7V916H2123.7V908.8H2120.7V914.5H2117.7V911.6H2114.7V911.6H2111.7V913H2108.7V908.9H2105.7V908.9H2102.7V909.3H2099.7V914.8H2096.7V920H2093.7V913.8H2090.7V935.9H2087.7V913.9H2084.7V916.1H2081.7V907H2078.7V924.8H2075.7V911.8H2072.7V902.2H2069.7V899.5H2066.7V921.7H2063.7V894.8H2060.7V903.2H2057.7V895.7H2054.7V906.2H2051.7V893.8H2048.7V890.9H2045.7V912.8H2042.7V890.7H2039.7V894H2036.7V900H2033.7V900H2030.7V903.4H2027.7V893.8H2024.7V888.8H2021.7V883.5H2018.7V892.1H2015.7V892.1H2012.7V881H2009.7V888.1H2006.7V879.5H2003.7V886.9H2000.7V880.7H1997.7V884H1994.7V879.7H1991.7V879.5H1988.7V879.7H1985.7V881H1982.7V882.7H1979.7V867.3H1976.7V875.9H1973.7V874.2H1970.7V882.3H1967.7V882.7H1964.7V880.4H1961.7V880.4H1958.7V870.3H1955.7V875.7H1952.7V895.7H1949.7V870.8H1946.7V884.1H1943.7V872.1H1940.7V873.3H1937.7V873.3H1934.7V878.7H1931.7V878.7H1928.7V874.4H1925.7V873.1H1922.7V873.1H1919.7V873.2H1916.7V869.2H1913.7V875.3H1910.7V865.5H1907.7V875.4H1904.7V870.7H1901.7V875H1898.7V880.1H1895.7V878.4H1892.7V878.4H1889.7V877.5H1886.7V865.1H1883.7V863.4H1880.7V865.9H1877.7V869.9H1874.7V869.2H1871.7V872.8H1868.7V868.4H1865.7V872.2H1862.7V870.2H1859.7V870.2H1856.7V883.7H1853.7V895.7H1850.7V867.8H1847.7V864.1H1844.7V870.3H1841.7V872.9H1838.7V858.6H1835.7V862.9H1832.7V870.7H1829.7V865.6H1826.7V855.6H1823.7V869.8H1820.7V865.8H1817.7V859.3H1814.7V867H1811.7V864.1H1808.7V862.2H1805.7V870.7H1802.7V872.4H1799.7V848.9H1796.7V857H1793.7V864.3H1790.7V864.3H1787.7V862.5H1784.7V853.3H1781.7V866.5H1778.7V856.7H1775.7V854.7H1772.7V879.4H1769.7V855.6H1766.7V853H1763.7V848.3H1760.7V862.1H1757.7V846.8H1754.7V852.8H1751.7V852.8H1748.7V849H1745.7V856.2H1742.7V851.6H1739.7V851.9H1736.7V843.5H1733.7V856.7H1730.7V853.7H1727.7V844.8H1724.7V857H1721.7V851.1H1718.7V846.3H1715.7V842.7H1712.7V847.9H1709.7V839.6H1706.7V848.4H1703.7V843.3H1700.7V838.5H1697.7V846.4H1694.7V841.5H1691.7V839.6H1688.7V839.3H1685.7V837.3H1682.7V837.3H1679.7V827H1676.7V836.5H1673.7V841.8H1670.7V841.7H1667.7V841.7H1664.7V839.4H1661.7V837.9H1658.7V837.9H1655.7V835.9H1652.7V827.7H1649.7V828.4H1646.7V831H1643.7V840H1640.7V826.3H1637.7V820.4H1634.7V827.2H1631.7V819.4H1628.7V816.6H1625.7V819.1H1622.7V819.1H1619.7V815.1H1616.7V817.2H1613.7V809.8H1610.7V809.8H1607.7V811.8H1604.7V810.6H1601.7V796H1598.7V801.4H1595.7V801.4H1592.7V806.1H1589.7V801.5H1586.7V794.8H1583.7V800.9H1580.7V800.9H1577.7V815H1574.7V784.6H1571.7V785.7H1568.7V787.1H1565.7V771.8H1562.7V777.9H1559.7V771.2H1556.7V770.1H1553.7V772.6H1550.7V770.9H1547.7V756.2H1544.7V764.5H1541.7V747.2H1538.7V771.1H1535.7V751.2H1532.7V752.2H1529.7V760H1526.7V740.8H1523.7V747H1520.7V746.7H1517.7V738.9H1514.7V746.9H1511.7V729.5H1508.7V725.6H1505.7V725.6H1502.7V719.5H1499.7V725.7H1496.7V724.2H1493.7V738.5H1490.7V723H1487.7V729.4H1484.7V719H1481.7V708.4H1478.7V713.4H1475.7V705.2H1472.7V708.3H1469.7V702H1466.7V696.8H1463.7V688.6H1460.7V704.1H1457.7V682H1454.7V693.8H1451.7V685.6H1448.7V666.3H1445.7V673.6H1442.7V649.5H1439.7V663.7H1436.7V649.4H1433.7V654.1H1430.7V644.9H1427.7V628.7H1424.7V620.8H1421.7V627.8H1418.7V611.6H1415.7V596.8H1412.7V590.4H1409.7V601.4H1406.7V604.9H1403.7V596.4H1400.7V600.1H1397.7V597H1394.7V600.9H1391.7V576.5H1388.7V585.6H1385.7V562.6H1382.7V561H1379.7V574.5H1376.7V560.2H1373.7V560.2H1370.7V553.1H1367.7V552.8H1364.7V552.6H1361.7V563.1H1358.7V530.8H1355.7V532.3H1352.7V525.3H1349.7V514.4H1346.7V512.7H1343.7V516H1340.7V525.1H1337.7V504.8H1334.7V512.7H1331.7V534.3H1328.7V497.9H1325.7V499.9H1322.7V501.2H1319.7V492.8H1316.7V500.5H1313.7V494.9H1310.7V487.1H1307.7V474.1H1304.7V479.3H1301.7V476.1H1298.7V479.2H1295.7V483.8H1292.7V483.8H1289.7V481.6H1286.7V466.2H1283.7V481.5H1280.7V487.3H1277.7V486.1H1274.7V470.1H1271.7V481.5H1268.7V468.9H1265.7V467.3H1262.7V457.6H1259.7V453.4H1256.7V451.5H1253.7V457.8H1250.7V453.9H1247.7V460.4H1244.7V454.6H1241.7V465.1H1238.7V459.4H1235.7V455.9H1232.7V455.2H1229.7V434.8H1226.7V456.1H1223.7V434.4H1220.7V448.2H1217.7V448.2H1214.7V446.4H1211.7V431.4H1208.7V428.7H1205.7V420.2H1202.7V420.2H1199.7V411.1H1196.7V422.3H1193.7V428.4H1190.7V406.6H1187.7V409.1H1184.7V402.1H1181.7V406.7H1178.7V401.5H1175.7V397.1H1172.7V397.1H1169.7V412.8H1166.7V398.6H1163.7V396.4H1160.7V406.3H1157.7V396.5H1154.7V410.2H1151.7V408H1148.7V408H1145.7V419.6H1142.7V419.6H1139.7V433H1136.7V427.3H1133.7V423.6H1130.7V423.4H1127.7V420.6H1124.7V430.5H1121.7V423.3H1118.7V423.3H1115.7V414.2H1112.7V452.6H1109.7V435.1H1106.7V437.4H1103.7V430.7H1100.7V443.3H1097.7V427.4H1094.7V460.7H1091.7V430.8H1088.7V443.3H1085.7V450.7H1082.7V487.2H1079.7V443.2H1076.7V447.4H1073.7V445.7H1070.7V438H1067.7V441.9H1064.7V440.9H1061.7V450.3H1058.7V437H1055.7V435.9H1052.7V430.4H1049.7V438.5H1046.7V428.4H1043.7V412.9H1040.7V416.5H1037.7V410.8H1034.7V418.2H1031.7V419.3H1028.7V429.9H1025.7V444H1022.7V404.3H1019.7V421.7H1016.7V419.5H1013.7V415.9H1010.7V436.8H1007.7V439.9H1004.7V439.9H1001.7V443.3H998.7V447.3H995.7V462.7H992.7V472.2H989.7V478.8H986.7V485.6H983.7V492.1H980.7V503.3H977.7V549.8H974.7V524.3H971.7V538.8H968.7V530.7H965.7V532.2H962.7V534.5H959.7V568.4H956.7V579.2H953.7V552.3H950.7V560.1H947.7V578.3H944.7V569.4H941.7V575.9H938.7V558.4H935.7V558.4H932.7V563.5H929.7V576.8H926.7V568.6H923.7V562.9H920.7V570.8H917.7V571.1H914.7V574.3H911.7V565.8H908.7V577.6H905.7V582.1H902.7V583.3H899.7V607.5H896.7V604.4H893.7V604.7H890.7V608.1H887.7V614.7H884.7V624.6H881.7V618.2H878.7V628.6H875.7V635.7H872.7V637.5H869.7V638.5H866.7V663.4H863.7V651.7H860.7V664.6H857.7V672.5H854.7V705.5H851.7V695.9H848.7V696.2H845.7V711.2H842.7V714.3H839.7V713.4H836.7V725.7H833.7V724.3H830.7V721.2H827.7V730.5H824.7V738.2H821.7V740.8H818.7V752.6H815.7V743.4H812.7V749.1H809.7V745.5H806.7V783.6H803.7V770.9H800.7V771.1H797.7V777.3H794.7V769.1H791.7V782.1H788.7V774.4H785.7V784.6H782.7V783.9H779.7V779.2H776.7V781.5H773.7V781.5H770.7V795H767.7V799.3H764.7V800.9H761.7V813.2H758.7V814.7H755.7V832.6H752.7V819.1H749.7V812.3H746.7V822.2H743.7V829.5H740.7V829.5H737.7V835.7H734.7V828.6H731.7V837.3H728.7V842.9H725.7V835.8H722.7V862.4H719.7V841.7H716.7V847H713.7V848.2H710.7V856.2H707.7V862.4H704.7V855.8H701.7V855.8H698.7V863.7H695.7V893H692.7V874.1H689.7V868.7H686.7V879.9H683.7V879.3H680.7V874.7H677.7V877.3H674.7V890.6H671.7V883H668.7V883H665.7V885.4H662.7V886.7H659.7V895.7H656.7V891.3H653.7V899.8H650.7V891.5H647.7V910.8H644.7V906.9H641.7V907.6H638.7V904.8H635.7V900.1H632.7V917.1H629.7V919H626.7V915.7H623.7V933.1H620.7V932.5H617.7V931.6H614.7V928.7H611.7V936.3H608.7V931.8H605.7V944.7H602.7V935.9H599.7V955.3H596.7V951H593.7V936.7H590.7V942.4H587.7V944.1H584.7V949.2H581.7V964.6H578.7V949.3H575.7V960.3H572.7V970.5H569.7V957H566.7V958.3H563.7V966.7H560.7V960.6H557.7V965.7H554.7V960H551.7V955.3H548.7V976.8H545.7V967.4H542.7V971.6H539.7V967.4H536.7V975.8H533.7V974H530.7V979.5H527.7V972.4H524.7V978.5H521.7V993.1H518.7V993.1H515.7V985.6H512.7V994.1H509.7V986.9H506.7V980.4H503.7V990.3H500.7V987.6H497.7V1012.7H494.7V986H491.7V991.6H488.7V995H485.7V988H482.7V986.9H479.7V987.5H476.7V1005.8H473.7V1005.8H470.7V988.8H467.7V994.5H464.7V1004.5H461.7V1015.5H458.7V1010.1H455.7V994.9H452.7V998.6H449.7V999.2H446.7V995.5H443.7V995.1H440.7V997.3H437.7V1000.7H434.7V1000.7H431.7V995.3H428.7V1002.8H425.7V997.5H422.7V997.5H419.7V989H416.7V995.9H413.7V987.2H410.7V997.6H407.7V989.3H404.7V1003.6H401.7V1003.6H398.7V999H395.7V990.9H392.7V995.2H389.7V1007.2H386.7V988.4H383.7V986.6H380.7V984.9H377.7V992H374.7V994.4H371.7V984.6H368.7V991.2H365.7V996.9H362.7V978.6H359.7V998.6H356.7V991.3H353.7V986.8H350.7V995.4H347.7V1006.4H344.7V984.9H341.7V992.1H338.7V982.5H335.7V987.9H332.7Z" fill="#ff0000"/>
<path d="M332.7 935.8H335.7V949.1H338.7V937.4H341.7V935.2H344.7V948.4H347.7V936.4H350.7V936.4H353.7V938.1H356.7V924.6H359.7V939.3H362.7V946H365.7V933.8H368.7V933.8H371.7V942.4H374.7V939.5H377.7V937.7H380.7V932.6H383.7V932.6H386.7V943.9H389.7V939.2H392.7V935.1H395.7V942.6H398.7V933.1H401.7V937.2H404.7V945H407.7V945.6H410.7V945.6H413.7V954.2H416.7V943.4H419.7V946.4H422.7V927.9H425.7V950.6H428.7V949.5H431.7V939.5H434.7V954.2H437.7V957.1H440.7V944.8H443.7V955.2H446.7V949H449.7V952.1H452.7V944H455.7V944.4H458.7V949H461.7V941.8H464.7V948.5H467.7V949.2H470.7V933.2H473.7V938.3H476.7V938.8H479.7V938.4H482.7V943.3H485.7V936.4H488.7V936.9H491.7V931.1H494.7V927.7H497.7V913.5H500.7V919.6H503.7V920.5H506.7V927.4H509.7V927.4H512.7V919H515.7V912.2H518.7V921.9H521.7V915.1H524.7V915.1H527.7V906.1H530.7V914.3H533.7V903.9H536.7V894.7H539.7V894.7H542.7V884.1H545.7V893.5H548.7V899.3H551.7V888.6H554.7V888.6H557.7V889.3H560.7V884.3H563.7V883.8H566.7V854.5H569.7V888.6H572.7V883.7H575.7V876.2H578.7V871.1H581.7V874.6H584.7V868.6H587.7V858.6H590.7V862.8H593.7V855.5H596.7V852.2H599.7V855.6H602.7V851.6H605.7V851.6H608.7V846.9H611.7V850.5H614.7V846.5H617.7V847H620.7V843.8H623.7V836.5H626.7V820.2H629.7V820.2H632.7V827.7H635.7V815.2H638.7V815.2H641.7V812.6H644.7V812.3H647.7V805.5H650.7V796.1H653.7V805.5H656.7V791.8H659.7V785.8H662.7V788.2H665.7V785.1H668.7V780.8H671.7V776.8H674.7V772.7H677.7V774.2H680.7V768.6H683.7V766.4H686.7V763.4H689.7V766.3H692.7V750.9H695.7V747.7H698.7V741H701.7V752.5H704.7V734.9H707.7V733.6H710.7V740.2H713.7V730.9H716.7V729H719.7V730.6H722.7V731.7H725.7V724.6H728.7V726.8H731.7V724.2H734.7V709H737.7V718.6H740.7V711.5H743.7V687.7H746.7V695.4H749.7V701.5H752.7V703.5H755.7V693.7H758.7V686.4H761.7V686.4H764.7V690.6H767.7V677.5H770.7V678.9H773.7V688.7H776.7V678.8H779.7V648.5H782.7V673.2H785.7V673.7H788.7V653.9H791.7V653.9H794.7V649.6H797.7V645.9H800.7V633.8H803.7V633.7H806.7V614.2H809.7V617.3H812.7V625.6H815.7V614.8H818.7V608.7H821.7V585H824.7V596.4H827.7V571.8H830.7V560.7H833.7V579.8H836.7V567.8H839.7V544.9H842.7V544.9H845.7V551.8H848.7V541.2H851.7V541.4H854.7V544.6H857.7V542.6H860.7V530H863.7V522.8H866.7V512.6H869.7V512.6H872.7V511H875.7V497.7H878.7V497.6H881.7V492.3H884.7V490.4H887.7V472.4H890.7V477.4H893.7V481.1H896.7V476.1H899.7V462.5H902.7V450.7H905.7V456.4H908.7V439.3H911.7V456.9H914.7V435.2H917.7V446.2H920.7V446.2H923.7V446.1H926.7V442.8H929.7V426.5H932.7V423.9H935.7V438.1H938.7V439.5H941.7V425.4H944.7V422.4H947.7V400.5H950.7V407.8H953.7V396.7H956.7V400.1H959.7V381.5H962.7V386.2H965.7V396H968.7V378H971.7V397.4H974.7V384.3H977.7V372.2H980.7V348.3H983.7V348.3H986.7V318.5H989.7V322.7H992.7V328.1H995.7V330.8H998.7V299.3H1001.7V299.7H1004.7V318H1007.7V297.7H1010.7V297.7H1013.7V283H1016.7V296.8H1019.7V291.1H1022.7V278.5H1025.7V297H1028.7V292.4H1031.7V291H1034.7V304.4H1037.7V310.8H1040.7V316.6H1043.7V305.3H1046.7V316.5H1049.7V344.2H1052.7V334.3H1055.7V314.1H1058.7V342.3H1061.7V337.3H1064.7V330.7H1067.7V335.2H1070.7V335.2H1073.7V322.3H1076.7V336.8H1079.7V312.9H1082.7V352.1H1085.7V341.2H1088.7V335.1H1091.7V324.6H1094.7V310.9H1097.7V331.1H1100.7V343.2H1103.7V337.2H1106.7V298.4H1109.7V321.2H1112.7V329H1115.7V327.6H1118.7V329.4H1121.7V318H1124.7V321.7H1127.7V315.3H1130.7V298.2H1133.7V317.7H1136.7V328.5H1139.7V306.3H1142.7V328.3H1145.7V309.8H1148.7V291.9H1151.7V316.6H1154.7V311.3H1157.7V288.2H1160.7V304.5H1163.7V285.6H1166.7V320.6H1169.7V313.2H1172.7V318.3H1175.7V344H1178.7V326H1181.7V326.9H1184.7V322.7H1187.7V341H1190.7V330H1193.7V345.8H1196.7V349.8H1199.7V341.3H1202.7V345.2H1205.7V347.2H1208.7V348.7H1211.7V366.1H1214.7V361.2H1217.7V361.2H1220.7V330.6H1223.7V380.7H1226.7V359H1229.7V369.1H1232.7V389.7H1235.7V375.9H1238.7V382.2H1241.7V379H1244.7V379H1247.7V384H1250.7V386.4H1253.7V378.4H1256.7V400H1259.7V402.1H1262.7V393H1265.7V397.6H1268.7V397.6H1271.7V414.1H1274.7V410.1H1277.7V417H1280.7V411.4H1283.7V415.3H1286.7V421.9H1289.7V407.8H1292.7V418.2H1295.7V415.2H1298.7V410.5H1301.7V407.1H1304.7V459.3H1307.7V442.8H1310.7V448.1H1313.7V452.3H1316.7V470.7H1319.7V470.7H1322.7V485H1325.7V494.8H1328.7V501.4H1331.7V505.1H1334.7V492.2H1337.7V499.7H1340.7V496.3H1343.7V484.9H1346.7V523.8H1349.7V531.6H1352.7V538.1H1355.7V510.1H1358.7V528H1361.7V545.1H1364.7V545.1H1367.7V561.2H1370.7V552.7H1373.7V559.9H1376.7V561.6H1379.7V553.6H1382.7V556.6H1385.7V565H1388.7V571H1391.7V580.3H1394.7V583.1H1397.7V567.5H1400.7V591.7H1403.7V588.3H1406.7V596.9H1409.7V601.7H1412.7V598.7H1415.7V602.3H1418.7V626.4H1421.7V640.4H1424.7V646H1427.7V647H1430.7V654.9H1433.7V671.6H1436.7V665.4H1439.7V661.8H1442.7V670.4H1445.7V691.9H1448.7V689.2H1451.7V691.8H1454.7V692.9H1457.7V710.6H1460.7V705.6H1463.7V713.4H1466.7V707.5H1469.7V698.7H1472.7V698.7H1475.7V718.4H1478.7V722.5H1481.7V718.7H1484.7V715.1H1487.7V712.1H1490.7V734.6H1493.7V736H1496.7V734.1H1499.7V736.8H1502.7V741.3H1505.7V747.8H1508.7V741.4H1511.7V740.8H1514.7V728.5H1517.7V736.5H1520.7V746.3H1523.7V735.9H1526.7V755.2H1529.7V752.2H1532.7V752.2H1535.7V741.7H1538.7V771.7H1541.7V757.8H1544.7V776H1547.7V777.6H1550.7V773.2H1553.7V778.5H1556.7V778.5H1559.7V784.4H1562.7V789.8H1565.7V800H1568.7V792.7H1571.7V800.7H1574.7V800.4H1577.7V807.5H1580.7V810.2H1583.7V811.7H1586.7V807H1589.7V807H1592.7V820.7H1595.7V808.3H1598.7V823.7H1601.7V823H1604.7V817H1607.7V818.9H1610.7V820.4H1613.7V826.1H1616.7V824.6H1619.7V817.4H1622.7V832.7H1625.7V834.1H1628.7V836.5H1631.7V848.4H1634.7V833.6H1637.7V837.6H1640.7V839.9H1643.7V829.9H1646.7V848.7H1649.7V847.9H1652.7V849.3H1655.7V846.9H1658.7V843.6H1661.7V831.8H1664.7V857.6H1667.7V834.8H1670.7V850.5H1673.7V840H1676.7V857.8H1679.7V856.7H1682.7V855.9H1685.7V863H1688.7V852.6H1691.7V857.2H1694.7V852.2H1697.7V862.8H1700.7V866.9H1703.7V864.5H1706.7V862.6H1709.7V861.7H1712.7V877.9H1715.7V870.7H1718.7V855.2H1721.7V866.1H1724.7V856.9H1727.7V856H1730.7V874.2H1733.7V869H1736.7V861.1H1739.7V866.8H1742.7V866.8H1745.7V870.5H1748.7V874.9H1751.7V875.2H1754.7V871.3H1757.7V871.3H1760.7V872.5H1763.7V875H1766.7V871.7H1769.7V877.8H1772.7V877.3H1775.7V881.6H1778.7V880.8H1781.7V888.1H1784.7V889.9H1787.7V876.1H1790.7V888.5H1793.7V878.9H1796.7V878.9H1799.7V884.5H1802.7V885.1H1805.7V888.8H1808.7V887.1H1811.7V895.5H1814.7V895.4H1817.7V898H1820.7V896H1823.7V894H1826.7V900.4H1829.7V894.2H1832.7V896.1H1835.7V901.2H1838.7V887.3H1841.7V898.4H1844.7V897.7H1847.7V905H1850.7V900.2H1853.7V895.8H1856.7V896.7H1859.7V913.5H1862.7V899.5H1865.7V899.5H1868.7V907.1H1871.7V896.6H1874.7V896.6H1877.7V895.4H1880.7V906.3H1883.7V896.2H1886.7V904.9H1889.7V879H1892.7V893H1895.7V906.4H1898.7V906.4H1901.7V905.8H1904.7V906.1H1907.7V909.7H1910.7V908.6H1913.7V895.7H1916.7V890.6H1919.7V896.9H1922.7V901.3H1925.7V902.3H1928.7V902H1931.7V897.6H1934.7V909H1937.7V892H1940.7V904.9H1943.7V904H1946.7V903.7H1949.7V911.3H1952.7V907.4H1955.7V910.9H1958.7V903.9H1961.7V919H1964.7V917.1H1967.7V902.4H1970.7V891.6H1973.7V915.3H1976.7V909.9H1979.7V897.3H1982.7V907.9H1985.7V917.8H1988.7V895.5H1991.7V913.3H1994.7V911.3H1997.7V922.4H2000.7V923.2H2003.7V916.6H2006.7V912H2009.7V920.7H2012.7V895.6H2015.7V916.1H2018.7V914.1H2021.7V927.5H2024.7V924H2027.7V919.6H2030.7V914.5H2033.7V914.5H2036.7V928.5H2039.7V918.4H2042.7V930H2045.7V919.7H2048.7V919.7H2051.7V935.3H2054.7V937.5H2057.7V932.3H2060.7V938.9H2063.7V932.9H2066.7V938.5H2069.7V938.5H2072.7V933.5H2075.7V945.4H2078.7V938.9H2081.7V941.4H2084.7V945.1H2087.7V944.6H2090.7V941.7H2093.7V949.3H2096.7V941.9H2099.7V951.7H2102.7V945.6H2105.7V953.9H2108.7V949.4H2111.7V933.7H2114.7V948.5H2117.7V954.6H2120.7V956.6H2123.7V963.1H2126.7V958.6H2129.7V954.5H2132.7V962H2135.7V960.3H2138.7V962.5H2141.7V967.9H2144.7V963.6H2147.7V966.3H2150.7V966.2H2153.7V971.1H2156.7V970.6H2159.7V971.2H2162.7V972.2H2165.7V973.7H2168.7V966.9H2171.7V978.9H2174.7V970.1H2177.7V973.7H2180.7V978.2H2183.7V983.6H2186.7V987.7H2189.7V984.4H2192.7V980.3H2195.7V981.1H2198.7V983.1H2201.7V982H2204.7V985.9H2207.7V987.4H2210.7V991.1H2213.7V984.9H2216.7V990.1H2219.7V994.8H2222.7V996H2225.7V1001H2228.7V997.5H2231.7V997.2H2234.7V997.2H2237.7V992.8H2240.7V997H2243.7V998.1H2246.7V992.5H2249.7V1000.8H2252.7V1000.6H2255.7V978.3H2258.7V1002H2261.7V994.2H2264.7V994.2H2267.6V1028.3H2264.7V1026.1H2261.7V1015.8H2258.7V1026.8H2255.7V1019.9H2252.7V1022.2H2249.7V1022H2246.7V1022H2243.7V1019.8H2240.7V1033.6H2237.7V1026.6H2234.7V1013.5H2231.7V1022.2H2228.7V1022.2H2225.7V1017.8H2222.7V1008.7H2219.7V1010.2H2216.7V1013.5H2213.7V1005H2210.7V1015H2207.7V1016.7H2204.7V1007.7H2201.7V1009.6H2198.7V1006.9H2195.7V1011.4H2192.7V1007.6H2189.7V1008.2H2186.7V1009.9H2183.7V1006.5H2180.7V1007.3H2177.7V1000H2174.7V1003H2171.7V998.6H2168.7V998.1H2165.7V998.3H2162.7V993.8H2159.7V1001.1H2156.7V1014.9H2153.7V999.2H2150.7V989.5H2147.7V992.2H2144.7V992.2H2141.7V989.3H2138.7V1002.7H2135.7V1002.7H2132.7V982.6H2129.7V986.4H2126.7V998.6H2123.7V979.1H2120.7V984.5H2117.7V973.2H2114.7V976.2H2111.7V985H2108.7V979.3H2105.7V976.7H2102.7V995H2099.7V966.2H2096.7V974H2093.7V968.1H2090.7V965.3H2087.7V974.3H2084.7V967.6H2081.7V972.7H2078.7V970.1H2075.7V965.9H2072.7V971.7H2069.7V965.8H2066.7V964.8H2063.7V961.2H2060.7V958.5H2057.7V962.6H2054.7V963.5H2051.7V955.2H2048.7V961.9H2045.7V960.6H2042.7V960.6H2039.7V953.6H2036.7V946.1H2033.7V942.9H2030.7V961.2H2027.7V940.6H2024.7V957.3H2021.7V941.8H2018.7V949H2015.7V951.2H2012.7V944.9H2009.7V940.2H2006.7V944H2003.7V944H2000.7V947.1H1997.7V947.6H1994.7V941.1H1991.7V944.7H1988.7V940.8H1985.7V941.8H1982.7V933.8H1979.7V941.4H1976.7V944.8H1973.7V939.3H1970.7V940.5H1967.7V934.8H1964.7V934.5H1961.7V936.2H1958.7V930.7H1955.7V929.9H1952.7V935H1949.7V921.1H1946.7V944.1H1943.7V930.6H1940.7V935.3H1937.7V931.6H1934.7V930.5H1931.7V930.7H1928.7V927.9H1925.7V936.1H1922.7V923.9H1919.7V920H1916.7V926.7H1913.7V925.2H1910.7V925.1H1907.7V938.6H1904.7V926.2H1901.7V930.4H1898.7V928.8H1895.7V928.4H1892.7V930.8H1889.7V943.5H1886.7V929.2H1883.7V943.1H1880.7V938.2H1877.7V928H1874.7V926.6H1871.7V932.2H1868.7V931.7H1865.7V942.1H1862.7V930.7H1859.7V932.5H1856.7V931.8H1853.7V922H1850.7V922.1H1847.7V921.8H1844.7V924.3H1841.7V925.3H1838.7V923.3H1835.7V927.2H1832.7V937H1829.7V919.5H1826.7V919.3H1823.7V922.5H1820.7V914.2H1817.7V917.2H1814.7V916.5H1811.7V918.1H1808.7V918.2H1805.7V931.8H1802.7V915.2H1799.7V914.3H1796.7V910.1H1793.7V914.8H1790.7V908.7H1787.7V910.4H1784.7V914.7H1781.7V899.1H1778.7V901.5H1775.7V906.9H1772.7V900.5H1769.7V906.5H1766.7V900H1763.7V910.4H1760.7V899.5H1757.7V902.6H1754.7V898.4H1751.7V893.3H1748.7V899.3H1745.7V899.3H1742.7V902.2H1739.7V895.3H1736.7V901.9H1733.7V897.5H1730.7V903.7H1727.7V921.8H1724.7V890.5H1721.7V894.6H1718.7V891.4H1715.7V901.8H1712.7V894.3H1709.7V885.7H1706.7V889.6H1703.7V908.8H1700.7V888.2H1697.7V887.3H1694.7V887H1691.7V883.4H1688.7V880.9H1685.7V894.3H1682.7V903.5H1679.7V879.8H1676.7V879.8H1673.7V873.9H1670.7V880.3H1667.7V882.7H1664.7V874.5H1661.7V874.5H1658.7V876.2H1655.7V891.6H1652.7V885.2H1649.7V872.1H1646.7V876.5H1643.7V863.8H1640.7V878.4H1637.7V870.4H1634.7V868.7H1631.7V866.9H1628.7V863.8H1625.7V863.8H1622.7V860.9H1619.7V851.6H1616.7V845.5H1613.7V855.2H1610.7V864.1H1607.7V848.2H1604.7V848.2H1601.7V844.7H1598.7V855.7H1595.7V836.9H1592.7V844.2H1589.7V844.5H1586.7V837.9H1583.7V830.7H1580.7V838.6H1577.7V836H1574.7V831H1571.7V826H1568.7V822.8H1565.7V818.5H1562.7V812.3H1559.7V804.4H1556.7V814H1553.7V811.2H1550.7V812.9H1547.7V791.2H1544.7V790.3H1541.7V790.3H1538.7V794.4H1535.7V789.5H1532.7V787.9H1529.7V791H1526.7V784.5H1523.7V779.5H1520.7V764.7H1517.7V771.5H1514.7V772.2H1511.7V767.8H1508.7V764.8H1505.7V775.2H1502.7V770.7H1499.7V760H1496.7V757.6H1493.7V776.8H1490.7V759H1487.7V750.9H1484.7V785H1481.7V757.1H1478.7V739H1475.7V745.9H1472.7V755.9H1469.7V738.2H1466.7V749.6H1463.7V729.9H1460.7V734.4H1457.7V734.4H1454.7V715.1H1451.7V713.1H1448.7V722.1H1445.7V710.8H1442.7V697.9H1439.7V702H1436.7V692.4H1433.7V686H1430.7V685.5H1427.7V673.5H1424.7V669H1421.7V662.1H1418.7V663.6H1415.7V640.8H1412.7V640.5H1409.7V624.6H1406.7V623.8H1403.7V623.1H1400.7V613.7H1397.7V612.9H1394.7V606.9H1391.7V625.3H1388.7V611.3H1385.7V611.3H1382.7V597.9H1379.7V598.7H1376.7V584.7H1373.7V590.2H1370.7V583.3H1367.7V600.9H1364.7V583.7H1361.7V603.6H1358.7V572.1H1355.7V567.6H1352.7V557.4H1349.7V545.3H1346.7V561.6H1343.7V536.9H1340.7V538.5H1337.7V540.8H1334.7V543.1H1331.7V543.1H1328.7V520.1H1325.7V524H1322.7V510.7H1319.7V497.2H1316.7V498H1313.7V489H1310.7V477.6H1307.7V478.2H1304.7V473.4H1301.7V474.5H1298.7V467.6H1295.7V463.3H1292.7V459.9H1289.7V443.6H1286.7V439.3H1283.7V445.6H1280.7V447.1H1277.7V457.6H1274.7V446.8H1271.7V463.1H1268.7V435.9H1265.7V429.5H1262.7V428.8H1259.7V430.3H1256.7V436.4H1253.7V448.5H1250.7V442.5H1247.7V422.6H1244.7V432.7H1241.7V410.7H1238.7V422H1235.7V416.9H1232.7V400.5H1229.7V413.8H1226.7V408.2H1223.7V412.9H1220.7V419.2H1217.7V412.5H1214.7V434.4H1211.7V395.7H1208.7V394.1H1205.7V404.9H1202.7V386.1H1199.7V386.2H1196.7V386.4H1193.7V376.1H1190.7V406H1187.7V377H1184.7V376.7H1181.7V363.9H1178.7V378.4H1175.7V349.4H1172.7V349.4H1169.7V351H1166.7V338.3H1163.7V363H1160.7V362.7H1157.7V362.9H1154.7V362.9H1151.7V355.9H1148.7V380.8H1145.7V357.8H1142.7V357.5H1139.7V364.8H1136.7V348.5H1133.7V362H1130.7V364.9H1127.7V369H1124.7V381.8H1121.7V373.7H1118.7V373.7H1115.7V362.5H1112.7V377.3H1109.7V372.7H1106.7V375.9H1103.7V375.9H1100.7V381.6H1097.7V385H1094.7V387.9H1091.7V389.4H1088.7V390.7H1085.7V382.3H1082.7V386.8H1079.7V394.7H1076.7V373.4H1073.7V385.4H1070.7V385.1H1067.7V370H1064.7V382H1061.7V368.4H1058.7V372.4H1055.7V391.4H1052.7V369.1H1049.7V385.3H1046.7V356.1H1043.7V359.4H1040.7V356.2H1037.7V344.7H1034.7V347.1H1031.7V335.1H1028.7V360H1025.7V319.2H1022.7V324.7H1019.7V331.5H1016.7V333.7H1013.7V344H1010.7V355.3H1007.7V349H1004.7V340.6H1001.7V345.8H998.7V361.7H995.7V385.3H992.7V365.4H989.7V369.4H986.7V374.2H983.7V400H980.7V407.8H977.7V420.6H974.7V425.5H971.7V437.6H968.7V441.5H965.7V430.4H962.7V452.7H959.7V436H956.7V437H953.7V448.5H950.7V450.6H947.7V463.5H944.7V481.6H941.7V459.4H938.7V474.8H935.7V467.9H932.7V467.5H929.7V480.5H926.7V486.5H923.7V485.5H920.7V474.8H917.7V518.7H914.7V490.3H911.7V492.2H908.7V481.5H905.7V518.7H902.7V493.8H899.7V502.1H896.7V510.4H893.7V528.6H890.7V518.2H887.7V527.1H884.7V547.3H881.7V540.2H878.7V546.2H875.7V540.8H872.7V555.9H869.7V551.1H866.7V568.7H863.7V568.6H860.7V577.7H857.7V577.7H854.7V570.1H851.7V592H848.7V608H845.7V601.2H842.7V589.9H839.7V600.6H836.7V614H833.7V616.4H830.7V617.2H827.7V630.8H824.7V631.4H821.7V632.3H818.7V653.4H815.7V657.6H812.7V648.1H809.7V662.7H806.7V687H803.7V665.2H800.7V678.4H797.7V680.4H794.7V691.4H791.7V693.2H788.7V692.3H785.7V710.1H782.7V702.4H779.7V701.5H776.7V713.9H773.7V716H770.7V714.5H767.7V716.1H764.7V721.9H761.7V719.7H758.7V723.1H755.7V719.8H752.7V727.2H749.7V736.3H746.7V748.5H743.7V740.3H740.7V739.1H737.7V740.7H734.7V746.1H731.7V745.8H728.7V772.7H725.7V757.4H722.7V765.4H719.7V787.9H716.7V765.9H713.7V758.7H710.7V766.9H707.7V774.3H704.7V803.3H701.7V768.6H698.7V776.4H695.7V781.4H692.7V786.7H689.7V791.9H686.7V785.9H683.7V792.4H680.7V802H677.7V802H674.7V807.4H671.7V807.9H668.7V812.6H665.7V823.1H662.7V812.2H659.7V821.4H656.7V826H653.7V832H650.7V832H647.7V842H644.7V842H641.7V847.8H638.7V847.3H635.7V869.7H632.7V858.3H629.7V879.2H626.7V872.8H623.7V872.8H620.7V874.5H617.7V874.3H614.7V870.4H611.7V886.7H608.7V882.3H605.7V886.9H602.7V885.1H599.7V886.6H596.7V887.2H593.7V886.6H590.7V893.7H587.7V889.1H584.7V900.9H581.7V905.2H578.7V913.6H575.7V911.3H572.7V910H569.7V917.9H566.7V911.7H563.7V919H560.7V916.9H557.7V917.4H554.7V917.7H551.7V915.2H548.7V921.1H545.7V927.8H542.7V925.9H539.7V931.4H536.7V926.8H533.7V943.9H530.7V938.2H527.7V941.2H524.7V939.3H521.7V953.9H518.7V972.7H515.7V954.5H512.7V958.4H509.7V961.2H506.7V961.6H503.7V948.1H500.7V957.1H497.7V954.4H494.7V960H491.7V951H488.7V984H485.7V964.3H482.7V965.4H479.7V975.8H476.7V961.1H473.7V974.7H470.7V966.1H467.7V975.7H464.7V965H461.7V971.2H458.7V978.9H455.7V975.8H452.7V976.3H449.7V977.3H446.7V980.8H443.7V987.3H440.7V984.9H437.7V997.5H434.7V974.2H431.7V970.2H428.7V992.8H425.7V969.8H422.7V976.1H419.7V972.6H416.7V969.7H413.7V968.4H410.7V974.6H407.7V974.2H404.7V960.7H401.7V963.3H398.7V957H395.7V964.4H392.7V978.5H389.7V968.7H386.7V964.4H383.7V965.4H380.7V955.4H377.7V972.5H374.7V965.4H371.7V970.2H368.7V975H365.7V961.7H362.7V960.4H359.7V969.9H356.7V969.8H353.7V967H350.7V965.3H347.7V970.4H344.7V967.9H341.7V975.4H338.7V964.2H335.7V974.3H332.7Z" fill="#0000ff"/>
<line x1="908.6" y1="66" x2="901.4" y2="1307" stroke="#6c0c94" stroke-width="7" stroke-dasharray="32 26.2"/>
<line x1="1013" y1="66" x2="1006" y2="1307" stroke="#6c0c94" stroke-width="7" stroke-dasharray="32 26.2"/>
<line x1="1167" y1="77" x2="1160" y2="1307" stroke="#6c0c94" stroke-width="7" stroke-dasharray="32 26.2"/>
<g stroke="#000" fill="none"><line x1="332.7" y1="70.1" x2="332.7" y2="1307" stroke-width="3.8"/><line x1="307.7" y1="72" x2="2269.2" y2="72" stroke-width="3.3" stroke="#1e1e1e"/><line x1="2267.6" y1="72" x2="2267.6" y2="1307" stroke-width="3.3" stroke="#1e1e1e"/><line x1="330.7" y1="1307" x2="2269.6" y2="1307" stroke-width="6"/><line x1="307.7" y1="1307" x2="332.7" y2="1307" stroke-width="4"/><line x1="307.7" y1="1130.6" x2="344.7" y2="1130.6" stroke-width="4"/><line x1="307.7" y1="954.1" x2="356.7" y2="954.1" stroke-width="4"/><line x1="307.7" y1="777.7" x2="344.7" y2="777.7" stroke-width="4"/><line x1="307.7" y1="601.3" x2="356.7" y2="601.3" stroke-width="4"/><line x1="307.7" y1="424.9" x2="344.7" y2="424.9" stroke-width="4"/><line x1="307.7" y1="248.4" x2="356.7" y2="248.4" stroke-width="4"/><line x1="307.7" y1="72" x2="332.7" y2="72" stroke-width="4"/><line x1="319.7" y1="1218.8" x2="332.7" y2="1218.8" stroke-width="4"/><line x1="319.7" y1="1042.4" x2="332.7" y2="1042.4" stroke-width="4"/><line x1="319.7" y1="865.9" x2="332.7" y2="865.9" stroke-width="4"/><line x1="319.7" y1="689.5" x2="332.7" y2="689.5" stroke-width="4"/><line x1="319.7" y1="513.1" x2="332.7" y2="513.1" stroke-width="4"/><line x1="319.7" y1="336.6" x2="332.7" y2="336.6" stroke-width="4"/><line x1="319.7" y1="160.2" x2="332.7" y2="160.2" stroke-width="4"/><line x1="332.7" y1="1286" x2="332.7" y2="1329" stroke-width="4"/><line x1="609.1" y1="1286" x2="609.1" y2="1329" stroke-width="4"/><line x1="885.5" y1="1286" x2="885.5" y2="1329" stroke-width="4"/><line x1="1161.9" y1="1286" x2="1161.9" y2="1329" stroke-width="4"/><line x1="1438.4" y1="1286" x2="1438.4" y2="1329" stroke-width="4"/><line x1="1714.8" y1="1286" x2="1714.8" y2="1329" stroke-width="4"/><line x1="1991.2" y1="1286" x2="1991.2" y2="1329" stroke-width="4"/><line x1="2267.6" y1="1286" x2="2267.6" y2="1329" stroke-width="4"/><line x1="470.9" y1="1297" x2="470.9" y2="1319" stroke-width="4"/><line x1="747.3" y1="1297" x2="747.3" y2="1319" stroke-width="4"/><line x1="1023.7" y1="1297" x2="1023.7" y2="1319" stroke-width="4"/><line x1="1300.2" y1="1297" x2="1300.2" y2="1319" stroke-width="4"/><line x1="1576.6" y1="1297" x2="1576.6" y2="1319" stroke-width="4"/><line x1="1853" y1="1297" x2="1853" y2="1319" stroke-width="4"/><line x1="2129.4" y1="1297" x2="2129.4" y2="1319" stroke-width="4"/></g>
<text x="289.5" y="1324" font-size="67.5" text-anchor="end" fill="#000">0</text><text x="289.5" y="1147.6" font-size="67.5" text-anchor="end" fill="#000">500</text><text x="289.5" y="971.1" font-size="67.5" text-anchor="end" fill="#000">1000</text><text x="289.5" y="794.7" font-size="67.5" text-anchor="end" fill="#000">1500</text><text x="289.5" y="618.3" font-size="67.5" text-anchor="end" fill="#000">2000</text><text x="289.5" y="441.9" font-size="67.5" text-anchor="end" fill="#000">2500</text><text x="289.5" y="265.4" font-size="67.5" text-anchor="end" fill="#000">3000</text><text x="289.5" y="89" font-size="67.5" text-anchor="end" fill="#000">3500</text>
<text x="332.7" y="1389.5" font-size="77" text-anchor="middle" fill="#000">5</text><text x="609.1" y="1389.5" font-size="77" text-anchor="middle" fill="#000">10</text><text x="885.5" y="1389.5" font-size="77" text-anchor="middle" fill="#000">15</text><text x="1161.9" y="1389.5" font-size="77" text-anchor="middle" fill="#000">20</text><text x="1438.4" y="1389.5" font-size="77" text-anchor="middle" fill="#000">25</text><text x="1714.8" y="1389.5" font-size="77" text-anchor="middle" fill="#000">30</text><text x="1991.2" y="1389.5" font-size="77" text-anchor="middle" fill="#000">35</text><text x="2267.6" y="1389.5" font-size="77" text-anchor="middle" fill="#000">40</text>
<text transform="translate(91,631.6) rotate(-90)" font-size="87" text-anchor="middle" fill="#000">Intensity (a.u.)</text>
<text x="1209.5" y="1502" font-size="86" text-anchor="middle" fill="#000" xml:space="preserve">2θ  (degrees)</text>
<g stroke-width="3.5"><line x1="1771" y1="172.4" x2="1898" y2="172.4" stroke="#1a1a1a"/><line x1="1771" y1="281.5" x2="1898" y2="281.5" stroke="#c01a1a"/><line x1="1774" y1="380" x2="1902" y2="380" stroke="#2a2aa8"/></g>
<text x="1913" y="193.5" font-size="58" text-anchor="start" fill="#1e1e1e">0.2 % EAVG</text><text x="1916" y="297.8" font-size="58" text-anchor="start" fill="#1e1e1e">0.5 % EAVG</text><text x="1920" y="395.6" font-size="58" text-anchor="start" fill="#1e1e1e">1.0 % EAVG</text>
<text x="724.3" y="418" font-size="61.5" fill="#1a1a1a">15.4<tspan font-size="38" dx="5.7" dy="-26">o</tspan></text><text x="1018.2" y="205.3" font-size="61.5" fill="#1a1a1a">17<tspan font-size="38" dx="2.8" dy="-27">o</tspan></text><text x="1181" y="257.5" font-size="61.5" fill="#1a1a1a">20<tspan font-size="38" dx="5.8" dy="-23">o</tspan></text>
<rect x="335" y="1640" width="1933" height="1506.5" fill="url(#gb)"/>
<path d="M347.5 3135 349.5 3135 351.5 3135 353.5 3135 355.5 3135 357.5 3134.9 359.5 3134.9 361.5 3134.9 363.5 3134.8 365.5 3134.8 367.5 3134.7 369.5 3134.7 371.5 3134.6 373.5 3134.5 375.5 3134.5 377.5 3134.4 379.5 3134.3 381.5 3134.3 383.5 3134.2 385.5 3134.1 387.5 3134 389.5 3134 391.5 3133.9 393.5 3133.8 395.5 3133.7 397.5 3133.6 399.5 3133.5 401.5 3133.4 403.5 3133.3 405.5 3133.2 407.5 3133.1 409.5 3133 411.5 3132.8 413.5 3132.7 415.5 3132.5 417.5 3132.4 419.5 3132.2 421.5 3132 423.5 3131.8 425.5 3131.7 427.5 3131.5 429.5 3131.2 431.5 3131 433.5 3130.8 435.5 3130.6 437.5 3130.4 439.5 3130.1 441.5 3129.9 443.5 3129.6 445.5 3129.4 447.5 3129.1 449.5 3128.8 451.5 3128.5 453.5 3128.3 455.5 3128 457.5 3127.7 459.5 3127.3 461.5 3127 463.5 3126.6 465.5 3126.2 467.5 3125.7 469.5 3125.3 471.5 3124.8 473.5 3124.3 475.5 3123.8 477.5 3123.3 479.5 3122.8 481.5 3122.3 483.5 3121.8 485.5 3121.3 487.5 3120.7 489.5 3120.2 491.5 3119.7 493.5 3119.2 495.5 3118.7 497.5 3118.1 499.5 3117.6 501.5 3117.1 503.5 3116.6 505.5 3116 507.5 3115.5 509.5 3115 511.5 3114.4 513.5 3113.8 515.5 3113.3 517.5 3112.7 519.5 3112.1 521.5 3111.5 523.5 3110.9 525.5 3110.2 527.5 3109.6 529.5 3108.9 531.5 3108.2 533.5 3107.5 535.5 3106.8 537.5 3106 539.5 3105.2 541.5 3104.5 543.5 3103.7 545.5 3102.9 547.5 3102 549.5 3101.2 551.5 3100.4 553.5 3099.5 555.5 3098.6 557.5 3097.7 559.5 3096.8 561.5 3095.9 563.5 3095 565.5 3094.1 567.5 3093.1 569.5 3092.2 571.5 3091.2 573.5 3090.2 575.5 3089.2 577.5 3088.2 579.5 3087.2 581.5 3086.1 583.5 3085.1 585.5 3084 587.5 3083 589.5 3081.9 591.5 3080.8 593.5 3079.7 595.5 3078.6 597.5 3077.5 599.5 3076.4 601.5 3075.2 603.5 3074.1 605.5 3072.9 607.5 3071.8 609.5 3070.6 611.5 3069.4 613.5 3068.2 615.5 3067 617.5 3065.8 619.5 3064.6 621.5 3063.4 623.5 3062.2 625.5 3060.9 627.5 3059.7 629.5 3058.5 631.5 3057.2 633.5 3055.9 635.5 3054.7 637.5 3053.4 639.5 3052.1 641.5 3050.8 643.5 3049.5 645.5 3048.2 647.5 3046.9 649.5 3045.6 651.5 3044.3 653.5 3043 655.5 3041.7 657.5 3040.4 659.5 3039 661.5 3037.7 663.5 3036.4 665.5 3035 667.5 3033.7 669.5 3032.3 671.5 3031 673.5 3029.6 675.5 3028.3 677.5 3026.9 679.5 3025.5 681.5 3024.2 683.5 3022.8 685.5 3021.4 687.5 3020.1 689.5 3018.7 691.5 3017.3 693.5 3015.9 695.5 3014.5 697.5 3013.1 699.5 3011.7 701.5 3010.3 703.5 3008.9 705.5 3007.5 707.5 3006.1 709.5 3004.7 711.5 3003.3 713.5 3001.9 715.5 3000.5 717.5 2999.1 719.5 2997.6 721.5 2996.2 723.5 2994.8 725.5 2993.4 727.5 2991.9 729.5 2990.5 731.5 2989.1 733.5 2987.7 735.5 2986.2 737.5 2984.8 739.5 2983.3 741.5 2981.9 743.5 2980.5 745.5 2979 747.5 2977.6 749.5 2976.1 751.5 2974.7 753.5 2973.2 755.5 2971.8 757.5 2970.3 759.5 2968.9 761.5 2967.4 763.5 2965.9 765.5 2964.5 767.5 2963 769.5 2961.6 771.5 2960.1 773.5 2958.6 775.5 2957.2 777.5 2955.7 779.5 2954.2 781.5 2952.8 783.5 2951.3 785.5 2949.9 787.5 2948.4 789.5 2946.9 791.5 2945.4 793.5 2944 795.5 2942.5 797.5 2941 799.5 2939.6 801.5 2938.1 803.5 2936.6 805.5 2935.2 807.5 2933.7 809.5 2932.2 811.5 2930.8 813.5 2929.3 815.5 2927.8 817.5 2926.3 819.5 2924.9 821.5 2923.4 823.5 2921.9 825.5 2920.5 827.5 2919 829.5 2917.5 831.5 2916.1 833.5 2914.6 835.5 2913.1 837.5 2911.7 839.5 2910.2 841.5 2908.7 843.5 2907.3 845.5 2905.8 847.5 2904.4 849.5 2902.9 851.5 2901.4 853.5 2900 855.5 2898.5 857.5 2897.1 859.5 2895.6 861.5 2894.2 863.5 2892.7 865.5 2891.3 867.5 2889.8 869.5 2888.4 871.5 2886.9 873.5 2885.5 875.5 2884 877.5 2882.6 879.5 2881.2 881.5 2879.7 883.5 2878.3 885.5 2876.9 887.5 2875.4 889.5 2874 891.5 2872.6 893.5 2871.1 895.5 2869.7 897.5 2868.3 899.5 2866.9 901.5 2865.5 903.5 2864.1 905.5 2862.6 907.5 2861.2 909.5 2859.8 911.5 2858.4 913.5 2857 915.5 2855.6 917.5 2854.2 919.5 2852.8 921.5 2851.5 923.5 2850.1 925.5 2848.7 927.5 2847.3 929.5 2845.9 931.5 2844.6 933.5 2843.2 935.5 2841.8 937.5 2840.4 939.5 2839.1 941.5 2837.7 943.5 2836.4 945.5 2835 947.5 2833.7 949.5 2832.3 951.5 2831 953.5 2829.7 955.5 2828.3 957.5 2827 959.5 2825.7 961.5 2824.3 963.5 2823 965.5 2821.7 967.5 2820.4 969.5 2819.1 971.5 2817.8 973.5 2816.5 975.5 2815.2 977.5 2813.9 979.5 2812.6 981.5 2811.3 983.5 2810.1 985.5 2808.8 987.5 2807.5 989.5 2806.3 991.5 2805 993.5 2803.7 995.5 2802.5 997.5 2801.3 999.5 2800 1001.5 2798.8 1003.5 2797.5 1005.5 2796.3 1007.5 2795.1 1009.5 2793.9 1011.5 2792.7 1013.5 2791.5 1015.5 2790.3 1017.5 2789.1 1019.5 2787.9 1021.5 2786.7 1023.5 2785.5 1025.5 2784.4 1027.5 2783.2 1029.5 2782 1031.5 2780.9 1033.5 2779.7 1035.5 2778.6 1037.5 2777.4 1039.5 2776.3 1041.5 2775.1 1043.5 2774 1045.5 2772.9 1047.5 2771.8 1049.5 2770.7 1051.5 2769.6 1053.5 2768.5 1055.5 2767.4 1057.5 2766.3 1059.5 2765.2 1061.5 2764.1 1063.5 2763.1 1065.5 2762 1067.5 2760.9 1069.5 2759.9 1071.5 2758.8 1073.5 2757.8 1075.5 2756.8 1077.5 2755.7 1079.5 2754.7 1081.5 2753.7 1083.5 2752.7 1085.5 2751.7 1087.5 2750.7 1089.5 2749.7 1091.5 2748.7 1093.5 2747.7 1095.5 2746.7 1097.5 2745.7 1099.5 2744.8 1101.5 2743.8 1103.5 2742.9 1105.5 2741.9 1107.5 2741 1109.5 2740 1111.5 2739.1 1113.5 2738.2 1115.5 2737.3 1117.5 2736.3 1119.5 2735.4 1121.5 2734.5 1123.5 2733.6 1125.5 2732.8 1127.5 2731.9 1129.5 2731 1131.5 2730.1 1133.5 2729.3 1135.5 2728.4 1137.5 2727.6 1139.5 2726.7 1141.5 2725.9 1143.5 2725.1 1145.5 2724.2 1147.5 2723.4 1149.5 2722.6 1151.5 2721.8 1153.5 2721 1155.5 2720.2 1157.5 2719.4 1159.5 2718.7 1161.5 2717.9 1163.5 2717.1 1165.5 2716.4 1167.5 2715.6 1169.5 2714.9 1171.5 2714.1 1173.5 2713.4 1175.5 2712.7 1177.5 2712 1179.5 2711.2 1181.5 2710.5 1183.5 2709.8 1185.5 2709.1 1187.5 2708.4 1189.5 2707.7 1191.5 2707.1 1193.5 2706.4 1195.5 2705.7 1197.5 2705 1199.5 2704.4 1201.5 2703.7 1203.5 2703.1 1205.5 2702.4 1207.5 2701.8 1209.5 2701.2 1211.5 2700.5 1213.5 2699.9 1215.5 2699.3 1217.5 2698.7 1219.5 2698.1 1221.5 2697.5 1223.5 2696.9 1225.5 2696.3 1227.5 2695.7 1229.5 2695.1 1231.5 2694.5 1233.5 2693.9 1235.5 2693.4 1237.5 2692.8 1239.5 2692.2 1241.5 2691.7 1243.5 2691.1 1245.5 2690.6 1247.5 2690 1249.5 2689.5 1251.5 2689 1253.5 2688.4 1255.5 2687.9 1257.5 2687.4 1259.5 2686.9 1261.5 2686.3 1263.5 2685.8 1265.5 2685.3 1267.5 2684.8 1269.5 2684.3 1271.5 2683.8 1273.5 2683.3 1275.5 2682.8 1277.5 2682.3 1279.5 2681.8 1281.5 2681.4 1283.5 2680.9 1285.5 2680.4 1287.5 2679.9 1289.5 2679.5 1291.5 2679 1293.5 2678.5 1295.5 2678.1 1297.5 2677.6 1299.5 2677.2 1301.5 2676.7 1303.5 2676.3 1305.5 2675.8 1307.5 2675.4 1309.5 2674.9 1311.5 2674.5 1313.5 2674.1 1315.5 2673.6 1317.5 2673.2 1319.5 2672.8 1321.5 2672.4 1323.5 2671.9 1325.5 2671.5 1327.5 2671.1 1329.5 2670.7 1331.5 2670.3 1333.5 2669.9 1335.5 2669.5 1337.5 2669.1 1339.5 2668.7 1341.5 2668.3 1343.5 2667.9 1345.5 2667.5 1347.5 2667.1 1349.5 2666.7 1351.5 2666.3 1353.5 2665.9 1355.5 2665.6 1357.5 2665.2 1359.5 2664.8 1361.5 2664.4 1363.5 2664.1 1365.5 2663.7 1367.5 2663.3 1369.5 2663 1371.5 2662.6 1373.5 2662.3 1375.5 2661.9 1377.5 2661.5 1379.5 2661.2 1381.5 2660.9 1383.5 2660.5 1385.5 2660.2 1387.5 2659.8 1389.5 2659.5 1391.5 2659.2 1393.5 2658.8 1395.5 2658.5 1397.5 2658.2 1399.5 2657.8 1401.5 2657.5 1403.5 2657.2 1405.5 2656.9 1407.5 2656.6 1409.5 2656.2 1411.5 2655.9 1413.5 2655.6 1415.5 2655.3 1417.5 2655 1419.5 2654.7 1421.5 2654.4 1423.5 2654.1 1425.5 2653.8 1427.5 2653.5 1429.5 2653.2 1431.5 2652.9 1433.5 2652.6 1435.5 2652.4 1437.5 2652.1 1439.5 2651.8 1441.5 2651.5 1443.5 2651.2 1445.5 2651 1447.5 2650.7 1449.5 2650.4 1451.5 2650.2 1453.5 2649.9 1455.5 2649.6 1457.5 2649.4 1459.5 2649.1 1461.5 2648.8 1463.5 2648.6 1465.5 2648.3 1467.5 2648.1 1469.5 2647.8 1471.5 2647.6 1473.5 2647.3 1475.5 2647.1 1477.5 2646.8 1479.5 2646.6 1481.5 2646.4 1483.5 2646.1 1485.5 2645.9 1487.5 2645.7 1489.5 2645.4 1491.5 2645.2 1493.5 2645 1495.5 2644.7 1497.5 2644.5 1499.5 2644.3 1501.5 2644.1 1503.5 2643.9 1505.5 2643.6 1507.5 2643.4 1509.5 2643.2 1511.5 2643 1513.5 2642.8 1515.5 2642.6 1517.5 2642.4 1519.5 2642.2 1521.5 2642 1523.5 2641.8 1525.5 2641.6 1527.5 2641.4 1529.5 2641.2 1531.5 2641 1533.5 2640.8 1535.5 2640.6 1537.5 2640.4 1539.5 2640.2 1541.5 2640 1543.5 2639.8 1545.5 2639.7 1547.5 2639.5 1549.5 2639.3 1551.5 2639.1 1553.5 2638.9 1555.5 2638.8 1557.5 2638.6 1559.5 2638.4 1561.5 2638.3 1563.5 2638.1 1565.5 2637.9 1567.5 2637.8 1569.5 2637.6 1571.5 2637.4 1573.5 2637.3 1575.5 2637.1 1577.5 2637 1579.5 2636.8 1581.5 2636.6 1583.5 2636.5 1585.5 2636.3 1587.5 2636.2 1589.5 2636 1591.5 2635.9 1593.5 2635.7 1595.5 2635.6 1597.5 2635.5 1599.5 2635.3 1601.5 2635.2 1603.5 2635 1605.5 2634.9 1607.5 2634.8 1609.5 2634.6 1611.5 2634.5 1613.5 2634.4 1615.5 2634.3 1617.5 2634.1 1619.5 2634 1621.5 2633.9 1623.5 2633.8 1625.5 2633.6 1627.5 2633.5 1629.5 2633.4 1631.5 2633.3 1633.5 2633.2 1635.5 2633 1637.5 2632.9 1639.5 2632.8 1641.5 2632.7 1643.5 2632.6 1645.5 2632.5 1647.5 2632.4 1649.5 2632.3 1651.5 2632.2 1653.5 2632.1 1655.5 2632 1657.5 2631.9 1659.5 2631.8 1661.5 2631.7 1663.5 2631.6 1665.5 2631.5 1667.5 2631.4 1669.5 2631.3 1671.5 2631.2 1673.5 2631.1 1675.5 2631 1677.5 2631 1679.5 2630.9 1681.5 2630.8 1683.5 2630.7 1685.5 2630.6 1687.5 2630.5 1689.5 2630.5 1691.5 2630.4 1693.5 2630.3 1695.5 2630.2 1697.5 2630.2 1699.5 2630.1 1701.5 2630 1703.5 2630 1705.5 2629.9 1707.5 2629.8 1709.5 2629.7 1711.5 2629.7 1713.5 2629.6 1715.5 2629.6 1717.5 2629.5 1719.5 2629.4 1721.5 2629.4 1723.5 2629.3 1725.5 2629.3 1727.5 2629.2 1729.5 2629.2 1731.5 2629.1 1733.5 2629 1735.5 2629 1737.5 2628.9 1739.5 2628.9 1741.5 2628.8 1743.5 2628.8 1745.5 2628.8 1747.5 2628.7 1749.5 2628.7 1751.5 2628.6 1753.5 2628.6 1755.5 2628.5 1757.5 2628.5 1759.5 2628.5 1761.5 2628.4 1763.5 2628.4 1765.5 2628.4 1767.5 2628.3 1769.5 2628.3 1771.5 2628.3 1773.5 2628.2 1775.5 2628.2 1777.5 2628.2 1779.5 2628.1 1781.5 2628.1 1783.5 2628.1 1785.5 2628.1 1787.5 2628 1789.5 2628 1791.5 2628 1793.5 2628 1795.5 2628 1797.5 2627.9 1799.5 2627.9 1801.5 2627.9 1803.5 2627.9 1805.5 2627.9 1807.5 2627.9 1809.5 2627.8 1811.5 2627.8 1813.5 2627.8 1815.5 2627.8 1817.5 2627.8 1819.5 2627.8 1821.5 2627.8 1823.5 2627.8 1825.5 2627.8 1827.5 2627.8 1829.5 2627.8 1831.5 2627.8 1833.5 2627.8 1835.5 2627.8 1837.5 2627.8 1839.5 2627.8 1841.5 2627.8 1843.5 2627.8 1845.5 2627.8 1847.5 2627.8 1849.5 2627.8 1851.5 2627.8 1853.5 2627.8 1855.5 2627.8 1857.5 2627.8 1859.5 2627.8 1861.5 2627.8 1863.5 2627.8 1865.5 2627.8 1867.5 2627.8 1869.5 2627.9 1871.5 2627.9 1873.5 2627.9 1875.5 2627.9 1877.5 2627.9 1879.5 2627.9 1881.5 2627.9 1883.5 2628 1885.5 2628 1887.5 2628 1889.5 2628 1891.5 2628 1893.5 2628.1 1895.5 2628.1 1897.5 2628.1 1899.5 2628.1 1901.5 2628.2 1903.5 2628.2 1905.5 2628.2 1907.5 2628.2 1909.5 2628.3 1911.5 2628.3 1913.5 2628.3 1915.5 2628.3 1917.5 2628.4 1919.5 2628.4 1921.5 2628.4 1923.5 2628.5 1925.5 2628.5 1927.5 2628.5 1929.5 2628.6 1931.5 2628.6 1932.4 2628.6 L1944 2631.5 L1951 2637 L1953.3 2645 L1953.3 2706 L1956.6 2712 L1956.6 2897" fill="none" stroke="#000000" stroke-width="11" stroke-linejoin="round" stroke-linecap="butt"/>
<path d="M347.5 3136.5 349.5 3136.5 351.5 3136.5 353.5 3136.4 355.5 3136.4 357.5 3136.4 359.5 3136.4 361.5 3136.3 363.5 3136.3 365.5 3136.3 367.5 3136.2 369.5 3136.2 371.5 3136.1 373.5 3136.1 375.5 3136 377.5 3136 379.5 3135.9 381.5 3135.9 383.5 3135.8 385.5 3135.8 387.5 3135.7 389.5 3135.7 391.5 3135.6 393.5 3135.6 395.5 3135.5 397.5 3135.4 399.5 3135.4 401.5 3135.3 403.5 3135.3 405.5 3135.2 407.5 3135.1 409.5 3135.1 411.5 3135 413.5 3134.9 415.5 3134.9 417.5 3134.8 419.5 3134.7 421.5 3134.6 423.5 3134.5 425.5 3134.5 427.5 3134.4 429.5 3134.3 431.5 3134.2 433.5 3134.1 435.5 3134 437.5 3133.9 439.5 3133.8 441.5 3133.6 443.5 3133.5 445.5 3133.4 447.5 3133.3 449.5 3133.1 451.5 3133 453.5 3132.8 455.5 3132.7 457.5 3132.5 459.5 3132.3 461.5 3132.1 463.5 3131.9 465.5 3131.6 467.5 3131.3 469.5 3131 471.5 3130.7 473.5 3130.4 475.5 3130 477.5 3129.6 479.5 3129.2 481.5 3128.7 483.5 3128.3 485.5 3127.8 487.5 3127.3 489.5 3126.8 491.5 3126.3 493.5 3125.7 495.5 3125.1 497.5 3124.5 499.5 3123.8 501.5 3123.1 503.5 3122.4 505.5 3121.7 507.5 3120.9 509.5 3120.1 511.5 3119.3 513.5 3118.5 515.5 3117.6 517.5 3116.7 519.5 3115.8 521.5 3114.9 523.5 3114 525.5 3113 527.5 3112 529.5 3111 531.5 3110.1 533.5 3109.1 535.5 3108.1 537.5 3107.1 539.5 3106 541.5 3105 543.5 3103.9 545.5 3102.8 547.5 3101.7 549.5 3100.5 551.5 3099.3 553.5 3098.2 555.5 3096.9 557.5 3095.7 559.5 3094.4 561.5 3093.1 563.5 3091.8 565.5 3090.5 567.5 3089.1 569.5 3087.7 571.5 3086.3 573.5 3084.9 575.5 3083.4 577.5 3081.9 579.5 3080.4 581.5 3078.8 583.5 3077.2 585.5 3075.6 587.5 3074 589.5 3072.4 591.5 3070.7 593.5 3069 595.5 3067.2 597.5 3065.5 599.5 3063.7 601.5 3061.8 603.5 3060 605.5 3058.1 607.5 3056.2 609.5 3054.3 611.5 3052.3 613.5 3050.3 615.5 3048.3 617.5 3046.2 619.5 3044.1 621.5 3042 623.5 3039.9 625.5 3037.7 627.5 3035.5 629.5 3033.3 631.5 3031.1 633.5 3028.8 635.5 3026.5 637.5 3024.2 639.5 3021.9 641.5 3019.6 643.5 3017.2 645.5 3014.8 647.5 3012.4 649.5 3009.9 651.5 3007.4 653.5 3005 655.5 3002.5 657.5 2999.9 659.5 2997.4 661.5 2994.8 663.5 2992.2 665.5 2989.6 667.5 2987 669.5 2984.4 671.5 2981.7 673.5 2979 675.5 2976.4 677.5 2973.6 679.5 2970.9 681.5 2968.2 683.5 2965.4 685.5 2962.7 687.5 2959.9 689.5 2957.1 691.5 2954.3 693.5 2951.5 695.5 2948.6 697.5 2945.8 699.5 2942.9 701.5 2940 703.5 2937.1 705.5 2934.2 707.5 2931.3 709.5 2928.4 711.5 2925.4 713.5 2922.4 715.5 2919.5 717.5 2916.5 719.5 2913.5 721.5 2910.4 723.5 2907.4 725.5 2904.4 727.5 2901.3 729.5 2898.2 731.5 2895.1 733.5 2892 735.5 2888.9 737.5 2885.8 739.5 2882.6 741.5 2879.5 743.5 2876.3 745.5 2873.1 747.5 2869.9 749.5 2866.7 751.5 2863.5 753.5 2860.2 755.5 2857 757.5 2853.7 759.5 2850.4 761.5 2847.1 763.5 2843.8 765.5 2840.5 767.5 2837.1 769.5 2833.8 771.5 2830.4 773.5 2827 775.5 2823.6 777.5 2820.2 779.5 2816.8 781.5 2813.4 783.5 2809.9 785.5 2806.4 787.5 2802.9 789.5 2799.5 791.5 2795.9 793.5 2792.4 795.5 2788.9 797.5 2785.3 799.5 2781.8 801.5 2778.2 803.5 2774.6 805.5 2771.1 807.5 2767.5 809.5 2763.9 811.5 2760.2 813.5 2756.6 815.5 2753 817.5 2749.4 819.5 2745.8 821.5 2742.2 823.5 2738.5 825.5 2734.9 827.5 2731.3 829.5 2727.7 831.5 2724 833.5 2720.4 835.5 2716.8 837.5 2713.2 839.5 2709.6 841.5 2706 843.5 2702.4 845.5 2698.8 847.5 2695.3 849.5 2691.7 851.5 2688.2 853.5 2684.6 855.5 2681.1 857.5 2677.6 859.5 2674 861.5 2670.5 863.5 2667 865.5 2663.5 867.5 2660 869.5 2656.6 871.5 2653.1 873.5 2649.6 875.5 2646.2 877.5 2642.7 879.5 2639.3 881.5 2635.9 883.5 2632.4 885.5 2629 887.5 2625.6 889.5 2622.2 891.5 2618.8 893.5 2615.5 895.5 2612.1 897.5 2608.7 899.5 2605.4 901.5 2602 903.5 2598.7 905.5 2595.4 907.5 2592.1 909.5 2588.8 911.5 2585.5 913.5 2582.2 915.5 2578.9 917.5 2575.6 919.5 2572.4 921.5 2569.1 923.5 2565.8 925.5 2562.6 927.5 2559.4 929.5 2556.2 931.5 2552.9 933.5 2549.7 935.5 2546.5 937.5 2543.4 939.5 2540.2 941.5 2537 943.5 2533.9 945.5 2530.7 947.5 2527.6 949.5 2524.4 951.5 2521.3 953.5 2518.2 955.5 2515.1 957.5 2512 959.5 2508.9 961.5 2505.8 963.5 2502.8 965.5 2499.7 967.5 2496.6 969.5 2493.6 971.5 2490.6 973.5 2487.5 975.5 2484.5 977.5 2481.5 979.5 2478.5 981.5 2475.5 983.5 2472.6 985.5 2469.6 987.5 2466.6 989.5 2463.7 991.5 2460.7 993.5 2457.8 995.5 2454.9 997.5 2452 999.5 2449.1 1001.5 2446.2 1003.5 2443.3 1005.5 2440.4 1007.5 2437.5 1009.5 2434.7 1011.5 2431.8 1013.5 2429 1015.5 2426.2 1017.5 2423.3 1019.5 2420.5 1021.5 2417.7 1023.5 2414.9 1025.5 2412.1 1027.5 2409.4 1029.5 2406.6 1031.5 2403.8 1033.5 2401.1 1035.5 2398.4 1037.5 2395.6 1039.5 2392.9 1041.5 2390.2 1043.5 2387.5 1045.5 2384.8 1047.5 2382.1 1049.5 2379.5 1051.5 2376.8 1053.5 2374.2 1055.5 2371.5 1057.5 2368.9 1059.5 2366.3 1061.5 2363.6 1063.5 2361 1065.5 2358.4 1067.5 2355.9 1069.5 2353.3 1071.5 2350.7 1073.5 2348.2 1075.5 2345.6 1077.5 2343.1 1079.5 2340.6 1081.5 2338.1 1083.5 2335.5 1085.5 2333.1 1087.5 2330.6 1089.5 2328.1 1091.5 2325.6 1093.5 2323.2 1095.5 2320.7 1097.5 2318.3 1099.5 2315.9 1101.5 2313.4 1103.5 2311 1105.5 2308.6 1107.5 2306.2 1109.5 2303.9 1111.5 2301.5 1113.5 2299.1 1115.5 2296.8 1117.5 2294.5 1119.5 2292.1 1121.5 2289.8 1123.5 2287.5 1125.5 2285.2 1127.5 2282.9 1129.5 2280.6 1131.5 2278.4 1133.5 2276.1 1135.5 2273.9 1137.5 2271.6 1139.5 2269.4 1141.5 2267.2 1143.5 2265 1145.5 2262.8 1147.5 2260.6 1149.5 2258.4 1151.5 2256.2 1153.5 2254.1 1155.5 2251.9 1157.5 2249.8 1159.5 2247.7 1161.5 2245.6 1163.5 2243.4 1165.5 2241.3 1167.5 2239.3 1169.5 2237.2 1171.5 2235.1 1173.5 2233 1175.5 2231 1177.5 2229 1179.5 2226.9 1181.5 2224.9 1183.5 2222.9 1185.5 2220.9 1187.5 2218.9 1189.5 2216.9 1191.5 2214.9 1193.5 2213 1195.5 2211 1197.5 2209.1 1199.5 2207.2 1201.5 2205.2 1203.5 2203.3 1205.5 2201.4 1207.5 2199.5 1209.5 2197.6 1211.5 2195.8 1213.5 2193.9 1215.5 2192 1217.5 2190.2 1219.5 2188.4 1221.5 2186.5 1223.5 2184.7 1225.5 2182.9 1227.5 2181.1 1229.5 2179.3 1231.5 2177.6 1233.5 2175.8 1235.5 2174 1237.5 2172.3 1239.5 2170.6 1241.5 2168.8 1243.5 2167.1 1245.5 2165.4 1247.5 2163.7 1249.5 2162 1251.5 2160.3 1253.5 2158.7 1255.5 2157 1257.5 2155.3 1259.5 2153.7 1261.5 2152.1 1263.5 2150.5 1265.5 2148.8 1267.5 2147.2 1269.5 2145.6 1271.5 2144.1 1273.5 2142.5 1275.5 2140.9 1277.5 2139.4 1279.5 2137.8 1281.5 2136.3 1283.5 2134.8 1285.5 2133.3 1287.5 2131.7 1289.5 2130.3 1291.5 2128.8 1293.5 2127.3 1295.5 2125.8 1297.5 2124.4 1299.5 2122.9 1301.5 2121.5 1303.5 2120 1305.5 2118.6 1307.5 2117.2 1309.5 2115.8 1311.5 2114.4 1313.5 2113 1315.5 2111.7 1317.5 2110.3 1319.5 2109 1321.5 2107.6 1323.5 2106.3 1325.5 2105 1327.5 2103.6 1329.5 2102.3 1331.5 2101 1333.5 2099.7 1335.5 2098.5 1337.5 2097.2 1339.5 2095.9 1341.5 2094.7 1343.5 2093.5 1345.5 2092.2 1347.5 2091 1349.5 2089.8 1351.5 2088.6 1353.5 2087.4 1355.5 2086.2 1357.5 2085.1 1359.5 2083.9 1361.5 2082.7 1363.5 2081.6 1365.5 2080.5 1367.5 2079.3 1369.5 2078.2 1371.5 2077.1 1373.5 2076 1375.5 2074.9 1377.5 2073.8 1379.5 2072.8 1381.5 2071.7 1383.5 2070.7 1385.5 2069.6 1387.5 2068.6 1389.5 2067.6 1391.5 2066.6 1393.5 2065.6 1395.5 2064.6 1397.5 2063.6 1399.5 2062.6 1401.5 2061.6 1403.5 2060.7 1405.5 2059.7 1407.5 2058.8 1409.5 2057.9 1411.5 2056.9 1413.5 2056 1415.5 2055.1 1417.5 2054.2 1419.5 2053.4 1421.5 2052.5 1423.5 2051.6 1425.5 2050.8 1427.5 2049.9 1429.5 2049.1 1431.5 2048.2 1433.5 2047.4 1435.5 2046.6 1437.5 2045.8 1439.5 2045 1441.5 2044.2 1443.5 2043.4 1445.5 2042.7 1447.5 2041.9 1449.5 2041.1 1451.5 2040.4 1453.5 2039.7 1455.5 2038.9 1457.5 2038.2 1459.5 2037.5 1461.5 2036.8 1463.5 2036.1 1465.5 2035.4 1467.5 2034.7 1469.5 2034 1471.5 2033.4 1473.5 2032.7 1475.5 2032.1 1477.5 2031.4 1479.5 2030.8 1481.5 2030.2 1483.5 2029.6 1485.5 2028.9 1487.5 2028.3 1489.5 2027.7 1491.5 2027.2 1493.5 2026.6 1495.5 2026 1497.5 2025.4 1499.5 2024.9 1501.5 2024.3 1503.5 2023.8 1505.5 2023.2 1507.5 2022.7 1509.5 2022.2 1511.5 2021.7 1513.5 2021.2 1515.5 2020.7 1517.5 2020.2 1519.5 2019.7 1521.5 2019.2 1523.5 2018.7 1525.5 2018.3 1527.5 2017.8 1529.5 2017.4 1531.5 2016.9 1533.5 2016.5 1535.5 2016 1537.5 2015.6 1539.5 2015.2 1541.5 2014.8 1543.5 2014.4 1545.5 2014 1547.5 2013.6 1549.5 2013.2 1551.5 2012.8 1553.5 2012.5 1555.5 2012.1 1557.5 2011.7 1559.5 2011.4 1561.5 2011 1563.5 2010.7 1565.5 2010.4 1567.5 2010 1569.5 2009.7 1571.5 2009.4 1573.5 2009.1 1575.5 2008.8 1577.5 2008.5 1579.5 2008.2 1581.5 2007.9 1583.5 2007.6 1585.5 2007.3 1587.5 2007.1 1589.5 2006.8 1591.5 2006.5 1593.5 2006.3 1595.5 2006 1597.5 2005.8 1599.5 2005.6 1601.5 2005.3 1603.5 2005.1 1605.5 2004.9 1607.5 2004.7 1609.5 2004.5 1611.5 2004.3 1613.5 2004.1 1615.5 2003.9 1617.5 2003.7 1619.5 2003.5 1621.5 2003.3 1623.5 2003.1 1625.5 2003 1627.5 2002.8 1629.5 2002.6 1631.5 2002.5 1633.5 2002.3 1635.5 2002.2 1637.5 2002.1 1639.5 2001.9 1641.5 2001.8 1643.5 2001.7 1645.5 2001.5 1647.5 2001.4 1649.5 2001.3 1651.5 2001.2 1653.5 2001.1 1655.5 2001 1657.5 2000.9 1659.5 2000.8 1661.5 2000.7 1663.5 2000.7 1665.5 2000.6 1667.5 2000.5 1669.5 2000.4 1671.5 2000.4 1673.5 2000.3 1675.5 2000.3 1677.5 2000.2 1679.5 2000.2 1681.5 2000.1 1683.5 2000.1 1685.5 2000 1687.5 2000 1689.5 2000 1691.5 2000 1693.5 1999.9 1695.5 1999.9 1697.5 1999.9 1699.5 1999.9 1701.5 1999.9 1703.5 1999.9 1705.5 1999.9 1707.5 1999.9 1709.5 1999.9 1711.5 1999.9 1713.5 1999.9 1715.5 1999.9 1717.5 2000 1719.5 2000 1721.5 2000 1723.5 2000 1725.5 2000.1 1727.5 2000.1 1729.5 2000.2 1731.5 2000.2 1733.5 2000.2 1735.5 2000.3 1737.5 2000.3 1738.6 2000.4 L1752 2003.5 L1760.5 2009.8 L1765.2 2022 L1765.2 2205 L1769.3 2211 L1769.3 2996" fill="none" stroke="#e60000" stroke-width="11" stroke-linejoin="round" stroke-linecap="butt"/>
<path d="M347.5 3135.2 349.5 3135.2 351.5 3135.1 353.5 3135 355.5 3134.8 357.5 3134.7 359.5 3134.5 361.5 3134.3 363.5 3134 365.5 3133.8 367.5 3133.5 369.5 3133.2 371.5 3132.9 373.5 3132.6 375.5 3132.2 377.5 3131.9 379.5 3131.6 381.5 3131.2 383.5 3130.8 385.5 3130.4 387.5 3129.9 389.5 3129.4 391.5 3128.8 393.5 3128.2 395.5 3127.5 397.5 3126.9 399.5 3126.2 401.5 3125.4 403.5 3124.7 405.5 3123.9 407.5 3123 409.5 3122.1 411.5 3121.2 413.5 3120.1 415.5 3119 417.5 3117.8 419.5 3116.6 421.5 3115.3 423.5 3113.9 425.5 3112.5 427.5 3110.9 429.5 3109.2 431.5 3107.3 433.5 3105.2 435.5 3103.1 437.5 3101 439.5 3098.7 441.5 3096.5 443.5 3094.2 445.5 3091.9 447.5 3089.5 449.5 3087 451.5 3084.4 453.5 3081.8 455.5 3079.1 457.5 3076.4 459.5 3073.7 461.5 3070.9 463.5 3068 465.5 3065 467.5 3061.9 469.5 3058.8 471.5 3055.7 473.5 3052.7 475.5 3049.8 477.5 3047 479.5 3044.3 481.5 3041.5 483.5 3038.4 485.5 3035 487.5 3031.4 489.5 3027.8 491.5 3024 493.5 3020.1 495.5 3016.2 497.5 3012.3 499.5 3008.3 501.5 3004.4 503.5 3000.4 505.5 2996.5 507.5 2992.5 509.5 2988.5 511.5 2984.5 513.5 2980.5 515.5 2976.4 517.5 2972.3 519.5 2968.2 521.5 2964 523.5 2959.8 525.5 2955.5 527.5 2951.2 529.5 2946.9 531.5 2942.6 533.5 2938.3 535.5 2934 537.5 2929.7 539.5 2925.3 541.5 2920.9 543.5 2916.5 545.5 2912.1 547.5 2907.7 549.5 2903.2 551.5 2898.8 553.5 2894.3 555.5 2889.8 557.5 2885.3 559.5 2880.8 561.5 2876.3 563.5 2871.7 565.5 2867.2 567.5 2862.6 569.5 2858.1 571.5 2853.5 573.5 2849 575.5 2844.4 577.5 2839.9 579.5 2835.3 581.5 2830.7 583.5 2826.2 585.5 2821.6 587.5 2817.1 589.5 2812.5 591.5 2808 593.5 2803.4 595.5 2798.9 597.5 2794.4 599.5 2789.9 601.5 2785.4 603.5 2780.9 605.5 2776.4 607.5 2771.9 609.5 2767.4 611.5 2763 613.5 2758.5 615.5 2754.1 617.5 2749.6 619.5 2745.2 621.5 2740.8 623.5 2736.4 625.5 2731.9 627.5 2727.5 629.5 2723.2 631.5 2718.8 633.5 2714.4 635.5 2710 637.5 2705.7 639.5 2701.3 641.5 2697 643.5 2692.7 645.5 2688.3 647.5 2684 649.5 2679.7 651.5 2675.4 653.5 2671.1 655.5 2666.8 657.5 2662.6 659.5 2658.3 661.5 2654 663.5 2649.8 665.5 2645.5 667.5 2641.3 669.5 2637.1 671.5 2632.9 673.5 2628.7 675.5 2624.5 677.5 2620.3 679.5 2616.1 681.5 2611.9 683.5 2607.7 685.5 2603.6 687.5 2599.4 689.5 2595.3 691.5 2591.2 693.5 2587 695.5 2582.9 697.5 2578.8 699.5 2574.7 701.5 2570.6 703.5 2566.5 705.5 2562.5 707.5 2558.4 709.5 2554.3 711.5 2550.3 713.5 2546.2 715.5 2542.2 717.5 2538.2 719.5 2534.2 721.5 2530.2 723.5 2526.2 725.5 2522.2 727.5 2518.2 729.5 2514.2 731.5 2510.3 733.5 2506.3 735.5 2502.4 737.5 2498.4 739.5 2494.5 741.5 2490.6 743.5 2486.7 745.5 2482.8 747.5 2478.9 749.5 2475 751.5 2471.1 753.5 2467.2 755.5 2463.4 757.5 2459.5 759.5 2455.7 761.5 2451.9 763.5 2448 765.5 2444.2 767.5 2440.4 769.5 2436.6 771.5 2432.8 773.5 2429 775.5 2425.3 777.5 2421.5 779.5 2417.8 781.5 2414 783.5 2410.3 785.5 2406.6 787.5 2402.8 789.5 2399.1 791.5 2395.4 793.5 2391.7 795.5 2388.1 797.5 2384.4 799.5 2380.7 801.5 2377.1 803.5 2373.4 805.5 2369.8 807.5 2366.2 809.5 2362.6 811.5 2358.9 813.5 2355.3 815.5 2351.8 817.5 2348.2 819.5 2344.6 821.5 2341 823.5 2337.5 825.5 2334 827.5 2330.4 829.5 2326.9 831.5 2323.4 833.5 2319.9 835.5 2316.4 837.5 2312.9 839.5 2309.4 841.5 2306 843.5 2302.5 845.5 2299 847.5 2295.6 849.5 2292.2 851.5 2288.8 853.5 2285.4 855.5 2282 857.5 2278.6 859.5 2275.2 861.5 2271.8 863.5 2268.4 865.5 2265.1 867.5 2261.8 869.5 2258.4 871.5 2255.1 873.5 2251.8 875.5 2248.5 877.5 2245.2 879.5 2241.9 881.5 2238.6 883.5 2235.4 885.5 2232.1 887.5 2228.9 889.5 2225.6 891.5 2222.4 893.5 2219.2 895.5 2216 897.5 2212.8 899.5 2209.6 901.5 2206.4 903.5 2203.3 905.5 2200.1 907.5 2197 909.5 2193.8 911.5 2190.7 913.5 2187.6 915.5 2184.5 917.5 2181.4 919.5 2178.3 921.5 2175.3 923.5 2172.2 925.5 2169.1 927.5 2166.1 929.5 2163.1 931.5 2160 933.5 2157 935.5 2154 937.5 2151 939.5 2148.1 941.5 2145.1 943.5 2142.1 945.5 2139.2 947.5 2136.2 949.5 2133.3 951.5 2130.4 953.5 2127.5 955.5 2124.6 957.5 2121.7 959.5 2118.8 961.5 2116 963.5 2113.1 965.5 2110.3 967.5 2107.4 969.5 2104.6 971.5 2101.8 973.5 2099 975.5 2096.2 977.5 2093.4 979.5 2090.6 981.5 2087.9 983.5 2085.1 985.5 2082.4 987.5 2079.7 989.5 2077 991.5 2074.3 993.5 2071.6 995.5 2068.9 997.5 2066.2 999.5 2063.5 1001.5 2060.9 1003.5 2058.2 1005.5 2055.6 1007.5 2053 1009.5 2050.4 1011.5 2047.8 1013.5 2045.2 1015.5 2042.6 1017.5 2040.1 1019.5 2037.5 1021.5 2035 1023.5 2032.4 1025.5 2029.9 1027.5 2027.4 1029.5 2024.9 1031.5 2022.4 1033.5 2020 1035.5 2017.5 1037.5 2015 1039.5 2012.6 1041.5 2010.2 1043.5 2007.7 1045.5 2005.3 1047.5 2002.9 1049.5 2000.6 1051.5 1998.2 1053.5 1995.8 1055.5 1993.5 1057.5 1991.1 1059.5 1988.8 1061.5 1986.5 1063.5 1984.2 1065.5 1981.9 1067.5 1979.6 1069.5 1977.3 1071.5 1975.1 1073.5 1972.8 1075.5 1970.6 1077.5 1968.4 1079.5 1966.1 1081.5 1963.9 1083.5 1961.7 1085.5 1959.6 1087.5 1957.4 1089.5 1955.2 1091.5 1953.1 1093.5 1951 1095.5 1948.8 1097.5 1946.7 1099.5 1944.6 1101.5 1942.6 1103.5 1940.5 1105.5 1938.4 1107.5 1936.4 1109.5 1934.3 1111.5 1932.3 1113.5 1930.3 1115.5 1928.3 1117.5 1926.3 1119.5 1924.3 1121.5 1922.3 1123.5 1920.4 1125.5 1918.4 1127.5 1916.5 1129.5 1914.6 1131.5 1912.7 1133.5 1910.8 1135.5 1908.9 1137.5 1907 1139.5 1905.2 1141.5 1903.3 1143.5 1901.5 1145.5 1899.7 1147.5 1897.9 1149.5 1896.1 1151.5 1894.3 1153.5 1892.5 1155.5 1890.7 1157.5 1889 1159.5 1887.3 1161.5 1885.5 1163.5 1883.8 1165.5 1882.1 1167.5 1880.4 1169.5 1878.7 1171.5 1877.1 1173.5 1875.4 1175.5 1873.8 1177.5 1872.2 1179.5 1870.6 1181.5 1869 1183.5 1867.4 1185.5 1865.8 1187.5 1864.2 1189.5 1862.7 1191.5 1861.1 1193.5 1859.6 1195.5 1858.1 1197.5 1856.6 1199.5 1855.1 1201.5 1853.6 1203.5 1852.2 1205.5 1850.7 1207.5 1849.3 1209.5 1847.8 1211.5 1846.4 1213.5 1845 1215.5 1843.6 1217.5 1842.3 1219.5 1840.9 1221.5 1839.6 1223.5 1838.2 1225.5 1836.9 1227.5 1835.6 1229.5 1834.3 1231.5 1833 1233.5 1831.7 1235.5 1830.5 1237.5 1829.2 1239.5 1828 1241.5 1826.8 1243.5 1825.6 1245.5 1824.4 1247.5 1823.2 1249.5 1822 1251.5 1820.9 1253.5 1819.7 1255.5 1818.6 1257.5 1817.5 1259.5 1816.4 1261.5 1815.3 1263.5 1814.2 1265.5 1813.1 1267.5 1812.1 1269.5 1811 1271.5 1810 1273.5 1809 1275.5 1808 1277.5 1807 1278 1806.8 L1285 1809 L1288.7 1815 L1289.5 1825 L1289.5 2588" fill="none" stroke="#0000e0" stroke-width="11" stroke-linejoin="round" stroke-linecap="butt"/>
<g stroke="#111" fill="none" stroke-width="3"><rect x="335" y="1640" width="1933" height="1506.5"/><line x1="336" y1="3146.5" x2="336" y2="3121.5"/><line x1="336" y1="1640" x2="336" y2="1665"/><line x1="765.3" y1="3146.5" x2="765.3" y2="3121.5"/><line x1="765.3" y1="1640" x2="765.3" y2="1665"/><line x1="1194.6" y1="3146.5" x2="1194.6" y2="3121.5"/><line x1="1194.6" y1="1640" x2="1194.6" y2="1665"/><line x1="1623.9" y1="3146.5" x2="1623.9" y2="3121.5"/><line x1="1623.9" y1="1640" x2="1623.9" y2="1665"/><line x1="2053.2" y1="3146.5" x2="2053.2" y2="3121.5"/><line x1="2053.2" y1="1640" x2="2053.2" y2="1665"/><line x1="550.6" y1="3146.5" x2="550.6" y2="3134.5"/><line x1="550.6" y1="1640" x2="550.6" y2="1652"/><line x1="980" y1="3146.5" x2="980" y2="3134.5"/><line x1="980" y1="1640" x2="980" y2="1652"/><line x1="1409.2" y1="3146.5" x2="1409.2" y2="3134.5"/><line x1="1409.2" y1="1640" x2="1409.2" y2="1652"/><line x1="1838.5" y1="3146.5" x2="1838.5" y2="3134.5"/><line x1="1838.5" y1="1640" x2="1838.5" y2="1652"/><line x1="2267.9" y1="3146.5" x2="2267.9" y2="3134.5"/><line x1="2267.9" y1="1640" x2="2267.9" y2="1652"/><line x1="335" y1="3136" x2="362" y2="3136"/><line x1="2268" y1="3136" x2="2241" y2="3136"/><line x1="335" y1="2851.1" x2="362" y2="2851.1"/><line x1="2268" y1="2851.1" x2="2241" y2="2851.1"/><line x1="335" y1="2566.2" x2="362" y2="2566.2"/><line x1="2268" y1="2566.2" x2="2241" y2="2566.2"/><line x1="335" y1="2281.3" x2="362" y2="2281.3"/><line x1="2268" y1="2281.3" x2="2241" y2="2281.3"/><line x1="335" y1="1996.4" x2="362" y2="1996.4"/><line x1="2268" y1="1996.4" x2="2241" y2="1996.4"/><line x1="335" y1="1711.5" x2="362" y2="1711.5"/><line x1="2268" y1="1711.5" x2="2241" y2="1711.5"/><line x1="335" y1="2993.6" x2="348" y2="2993.6"/><line x1="2268" y1="2993.6" x2="2255" y2="2993.6"/><line x1="335" y1="2708.7" x2="348" y2="2708.7"/><line x1="2268" y1="2708.7" x2="2255" y2="2708.7"/><line x1="335" y1="2423.8" x2="348" y2="2423.8"/><line x1="2268" y1="2423.8" x2="2255" y2="2423.8"/><line x1="335" y1="2138.8" x2="348" y2="2138.8"/><line x1="2268" y1="2138.8" x2="2255" y2="2138.8"/><line x1="335" y1="1854" x2="348" y2="1854"/><line x1="2268" y1="1854" x2="2255" y2="1854"/></g>
<text transform="translate(307 3157) scale(1.060 1)" font-size="77" text-anchor="end" fill="#000">0</text><text transform="translate(307 2872.1) scale(1.060 1)" font-size="77" text-anchor="end" fill="#000">10</text><text transform="translate(307 2587.2) scale(1.060 1)" font-size="77" text-anchor="end" fill="#000">20</text><text transform="translate(307 2302.3) scale(1.060 1)" font-size="77" text-anchor="end" fill="#000">30</text><text transform="translate(307 2017.4) scale(1.060 1)" font-size="77" text-anchor="end" fill="#000">40</text><text transform="translate(307 1732.5) scale(1.060 1)" font-size="77" text-anchor="end" fill="#000">50</text>
<text transform="translate(336 3239.5) scale(1.070 1)" font-size="75" text-anchor="middle" fill="#000">0</text><text transform="translate(765.3 3239.5) scale(1.070 1)" font-size="75" text-anchor="middle" fill="#000">1</text><text transform="translate(1194.6 3239.5) scale(1.070 1)" font-size="75" text-anchor="middle" fill="#000">2</text><text transform="translate(1623.9 3239.5) scale(1.070 1)" font-size="75" text-anchor="middle" fill="#000">3</text><text transform="translate(2053.2 3239.5) scale(1.070 1)" font-size="75" text-anchor="middle" fill="#000">4</text>
<text transform="translate(1362.3 3329.5) scale(1.045 1)" font-size="89.5" text-anchor="middle" fill="#000">Strain (%)</text>
<text transform="translate(169.5,2401.7) rotate(-90)" font-size="92" text-anchor="middle" fill="#000">Stress (MPa)</text>
<g stroke-width="11"><line x1="421" y1="1847.4" x2="566.4" y2="1847.4" stroke="#000"/><line x1="421" y1="1921" x2="566.4" y2="1921" stroke="#e00000"/><line x1="421" y1="1999.6" x2="566.4" y2="1999.6" stroke="#0000d0"/></g>
<text transform="translate(578 1866) scale(1.030 1)" font-size="59" text-anchor="start" fill="#1a1a1a">stress 0.2%</text><text transform="translate(578 1939) scale(1.030 1)" font-size="59" text-anchor="start" fill="#1a1a1a">stress 0.5%</text><text transform="translate(578 2015) scale(1.030 1)" font-size="59" text-anchor="start" fill="#1a1a1a">stress 1%</text>
</svg>
</body></html>
